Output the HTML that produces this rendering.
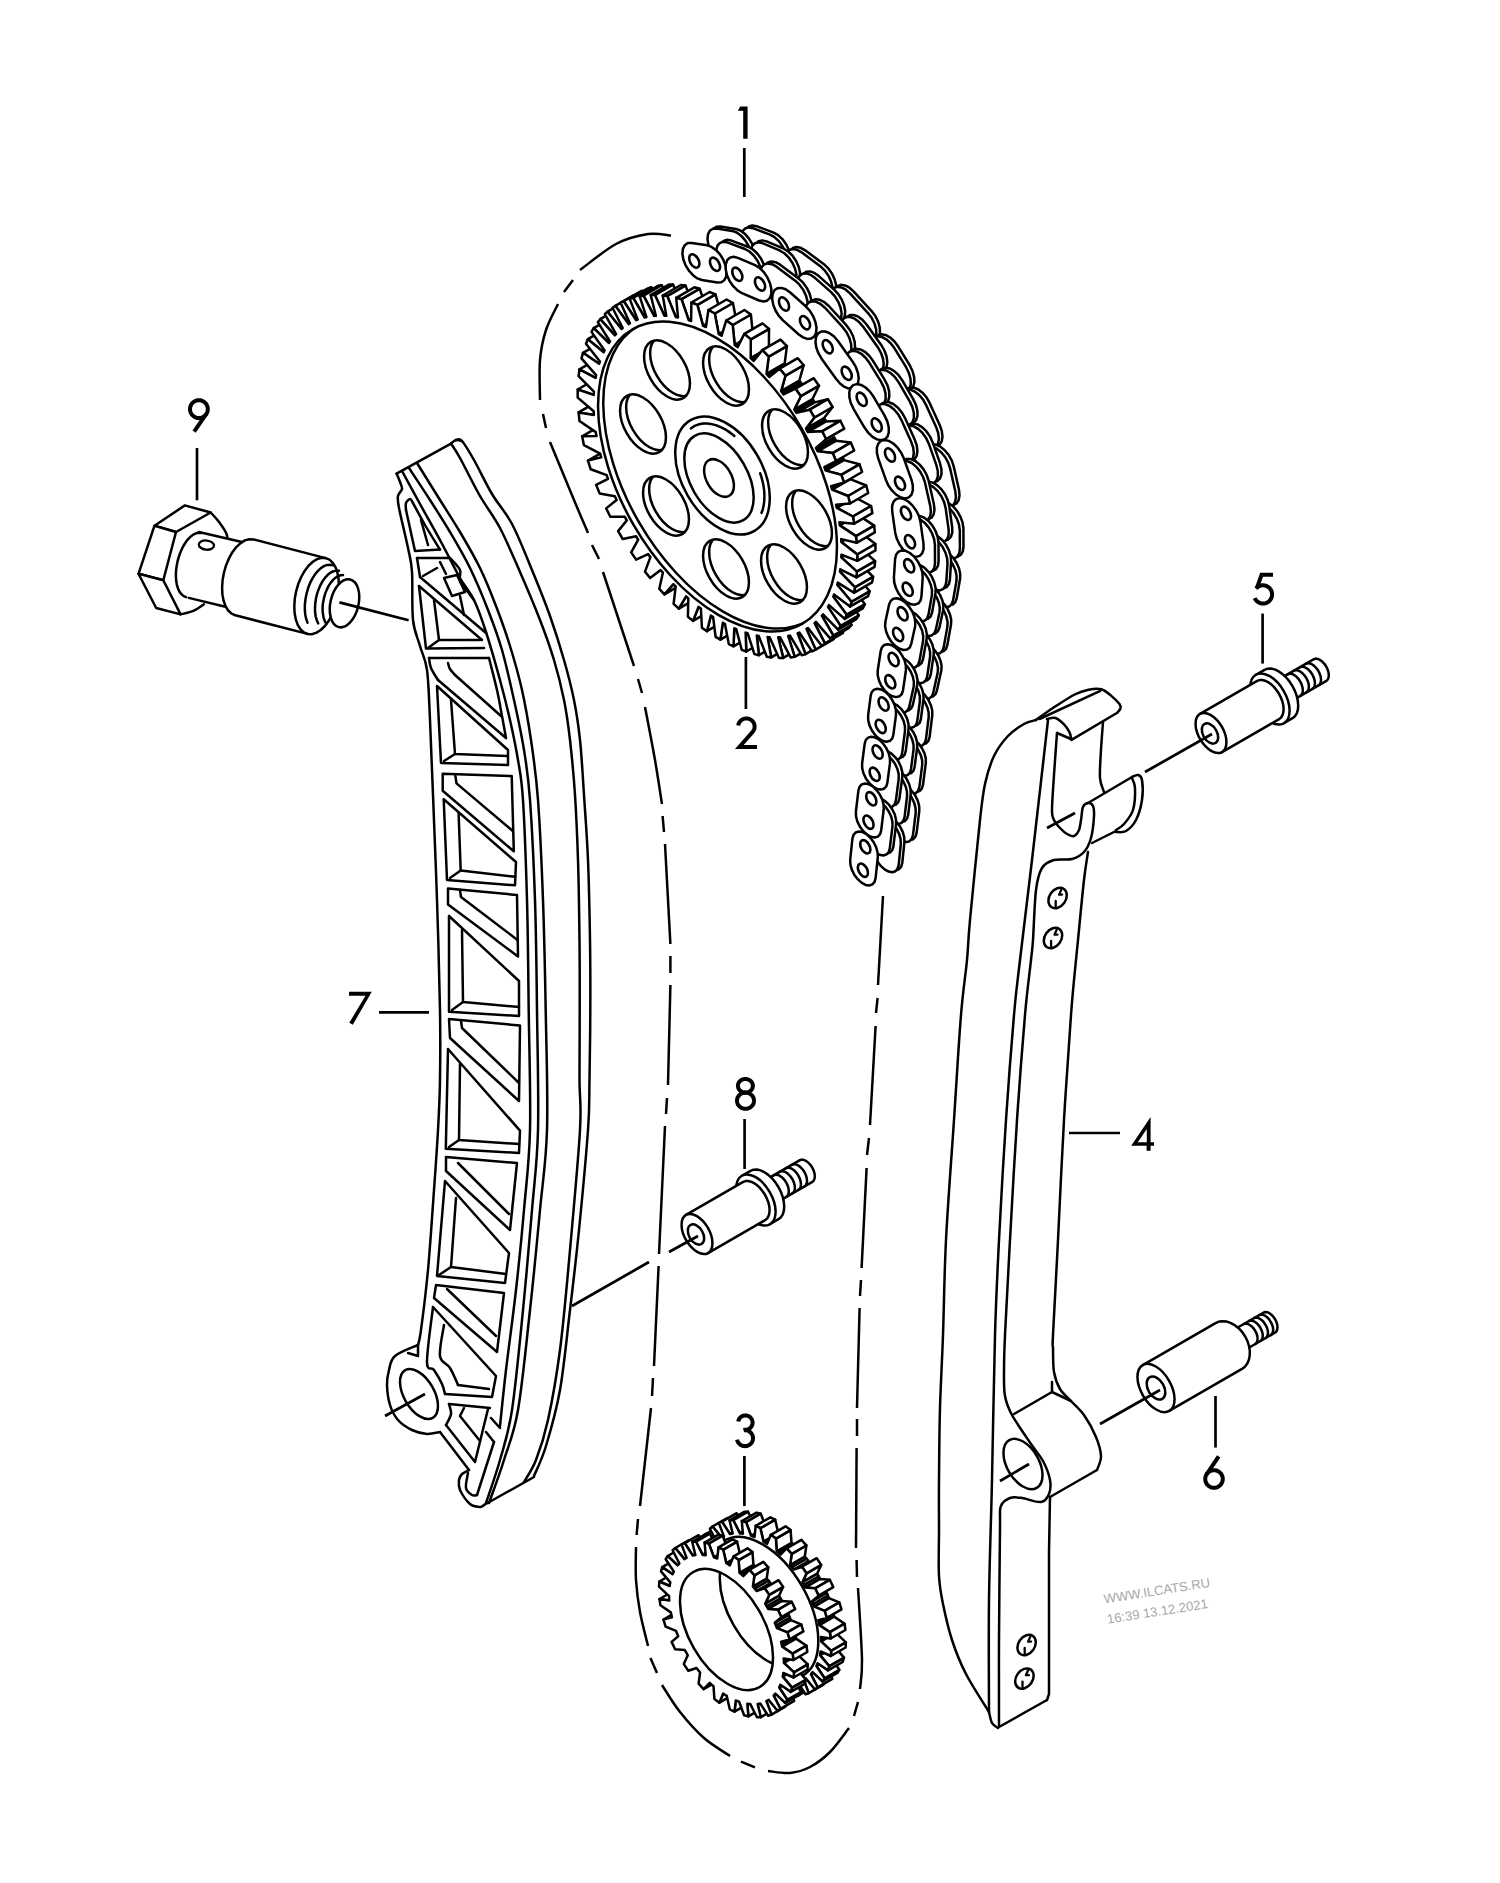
<!DOCTYPE html>
<html><head><meta charset="utf-8"><title>Timing chain</title>
<style>
html,body{margin:0;padding:0;background:#fff;}
body{width:1500px;height:1883px;overflow:hidden;font-family:"Liberation Sans",sans-serif;}
svg{display:block}
</style></head><body>
<svg width="1500" height="1883" viewBox="0 0 1500 1883" stroke="#000" fill="none" stroke-linecap="round" stroke-linejoin="round">
<rect x="0" y="0" width="1500" height="1883" fill="#fff" stroke="none"/>
<path d="M671 235.6 C667.2 235.3 657.2 232.6 648 234 C638.8 235.4 627.3 238 616 244 C604.7 250 586 265.7 580 270" fill="none" stroke-width="2.5" stroke-linecap="butt"/>
<path d="M573 280 L564 292" fill="none" stroke-width="2.5" stroke-linecap="butt"/>
<path d="M558 304 C556 308.3 549 320.7 546 330 C543 339.3 541 348.3 540 360 C539 371.7 540 393.3 540 400" fill="none" stroke-width="2.5" stroke-linecap="butt"/>
<path d="M543 414 L546 428" fill="none" stroke-width="2.5" stroke-linecap="butt"/>
<path d="M550 442 C554 451.7 567.7 484.8 574 500 C580.3 515.2 585.7 527.5 588 533" fill="none" stroke-width="2.5" stroke-linecap="butt"/>
<path d="M592 545 L599 559" fill="none" stroke-width="2.5" stroke-linecap="butt"/>
<path d="M603 572 L634 666" fill="none" stroke-width="2.5" stroke-linecap="butt"/>
<path d="M638 679 L642 693" fill="none" stroke-width="2.5" stroke-linecap="butt"/>
<path d="M645 707 C646.7 715.8 652.2 743.8 655 760 C657.8 776.2 660.8 796.7 662 804" fill="none" stroke-width="2.5" stroke-linecap="butt"/>
<path d="M662.6 816 L664 832" fill="none" stroke-width="2.5" stroke-linecap="butt"/>
<path d="M665 844 L670.4 944" fill="none" stroke-width="2.5" stroke-linecap="butt"/>
<path d="M670.4 956 L670.4 973" fill="none" stroke-width="2.5" stroke-linecap="butt"/>
<path d="M670.4 985 L668 1085" fill="none" stroke-width="2.5" stroke-linecap="butt"/>
<path d="M667 1098 L666 1114" fill="none" stroke-width="2.5" stroke-linecap="butt"/>
<path d="M665 1126 L659 1254" fill="none" stroke-width="2.5" stroke-linecap="butt"/>
<path d="M658.6 1266 L654 1366" fill="none" stroke-width="2.5" stroke-linecap="butt"/>
<path d="M653 1378 L652 1396" fill="none" stroke-width="2.5" stroke-linecap="butt"/>
<path d="M651 1408 L640 1506" fill="none" stroke-width="2.5" stroke-linecap="butt"/>
<path d="M638 1519 L636.6 1535" fill="none" stroke-width="2.5" stroke-linecap="butt"/>
<path d="M636 1547 C636 1552.5 635.3 1569.2 636 1580 C636.7 1590.8 638 1601 640 1612 C642 1623 646.7 1640.3 648 1646" fill="none" stroke-width="2.5" stroke-linecap="butt"/>
<path d="M650.4 1658 L657 1673" fill="none" stroke-width="2.5" stroke-linecap="butt"/>
<path d="M662 1685 C665 1689.5 673 1703.2 680 1712 C687 1720.8 695.7 1730.7 704 1738 C712.3 1745.3 725.7 1753 730 1756" fill="none" stroke-width="2.5" stroke-linecap="butt"/>
<path d="M741 1761.6 L755 1767.4" fill="none" stroke-width="2.5" stroke-linecap="butt"/>
<path d="M768 1771 C771.7 1771.3 783 1773.7 790 1773 C797 1772.3 803.3 1770.5 810 1767 C816.7 1763.5 823.5 1758.5 830 1752 C836.5 1745.5 845.8 1732 849 1728" fill="none" stroke-width="2.5" stroke-linecap="butt"/>
<path d="M854 1716 L858 1702" fill="none" stroke-width="2.5" stroke-linecap="butt"/>
<path d="M860 1689 C860.3 1684.2 862.3 1676.8 862 1660 C861.7 1643.2 858.7 1600 858 1588" fill="none" stroke-width="2.5" stroke-linecap="butt"/>
<path d="M857 1577 L856.6 1560" fill="none" stroke-width="2.5" stroke-linecap="butt"/>
<path d="M856 1548 L856.6 1448" fill="none" stroke-width="2.5" stroke-linecap="butt"/>
<path d="M857 1436 L857 1419" fill="none" stroke-width="2.5" stroke-linecap="butt"/>
<path d="M857 1408 L859.6 1308" fill="none" stroke-width="2.5" stroke-linecap="butt"/>
<path d="M860 1296 L861 1280" fill="none" stroke-width="2.5" stroke-linecap="butt"/>
<path d="M861.6 1268 L866.6 1168" fill="none" stroke-width="2.5" stroke-linecap="butt"/>
<path d="M867 1155 L869 1138" fill="none" stroke-width="2.5" stroke-linecap="butt"/>
<path d="M870 1125 L875.6 1026" fill="none" stroke-width="2.5" stroke-linecap="butt"/>
<path d="M876 1013 L877.6 998" fill="none" stroke-width="2.5" stroke-linecap="butt"/>
<path d="M878 985 L883 896" fill="none" stroke-width="2.5" stroke-linecap="butt"/>
<path d="M778.9 268.4 L783.1 269.2 L786.7 268.1 L789.3 265.3 L790.5 261.1 L790.4 255.8 L788.9 250 L786.1 244.2 L782.4 239.1 L778.1 235.1 L773.6 232.6 L756.5 226.2 L752.3 225.4 L748.7 226.5 L746.2 229.2 L744.9 233.5 L745 238.8 L746.5 244.6 L749.3 250.3 L753 255.4 L757.3 259.5 L761.8 262 Z" fill="#fff" stroke-width="2.5" />
<path d="M775.3 270.4 L779.5 271.2 L783.1 270.1 L785.7 267.3 L786.9 263.1 L786.8 257.8 L785.3 252 L782.5 246.2 L778.8 241.1 L774.5 237.1 L770 234.6 L752.9 228.2 L748.7 227.4 L745.1 228.5 L742.6 231.2 L741.3 235.5 L741.4 240.8 L742.9 246.6 L745.7 252.3 L749.4 257.4 L753.7 261.5 L758.2 264 Z" fill="#fff" stroke-width="2.5" />
<path d="M820.1 294.9 L824.6 297.5 L828.8 298.3 L832.4 297.2 L835 294.5 L836.2 290.2 L836.1 285 L834.6 279.2 L831.9 273.4 L828.2 268.3 L823.9 264.2 L805.2 250.3 L800.7 247.8 L796.4 247 L792.8 248 L790.3 250.8 L789 255 L789.1 260.3 L790.6 266.1 L793.3 271.8 L797.1 277 L801.4 281 Z" fill="#fff" stroke-width="2.5" />
<path d="M816.5 296.9 L821 299.5 L825.2 300.3 L828.8 299.2 L831.4 296.5 L832.6 292.2 L832.5 287 L831 281.2 L828.3 275.4 L824.6 270.3 L820.3 266.2 L801.6 252.3 L797.1 249.8 L792.8 249 L789.2 250 L786.7 252.8 L785.4 257 L785.5 262.3 L787 268.1 L789.7 273.8 L793.5 279 L797.8 283 Z" fill="#fff" stroke-width="2.5" />
<path d="M859.9 334.5 L864.3 338.4 L868.8 340.7 L873 341.3 L876.5 340 L878.9 337.1 L880 332.7 L879.7 327.3 L878.1 321.5 L875.2 315.8 L871.4 310.8 L853.8 291.6 L849.5 287.7 L845 285.4 L840.8 284.8 L837.3 286.1 L834.9 289 L833.8 293.4 L834.1 298.8 L835.7 304.6 L838.6 310.3 L842.4 315.3 Z" fill="#fff" stroke-width="2.5" />
<path d="M856.3 336.5 L860.7 340.4 L865.2 342.7 L869.4 343.3 L872.9 342 L875.3 339.1 L876.4 334.7 L876.1 329.3 L874.5 323.5 L871.6 317.8 L867.8 312.8 L850.2 293.6 L845.9 289.7 L841.4 287.4 L837.2 286.8 L833.7 288.1 L831.3 291 L830.2 295.4 L830.5 300.8 L832.1 306.6 L835 312.3 L838.8 317.3 Z" fill="#fff" stroke-width="2.5" />
<path d="M890.4 378.6 L894.2 383.7 L898.6 387.6 L903.1 390 L907.3 390.6 L910.8 389.4 L913.2 386.5 L914.4 382.1 L914.1 376.8 L912.5 371 L909.7 365.2 L898.1 346.3 L894.3 341.2 L889.9 337.3 L885.4 334.9 L881.2 334.3 L877.7 335.5 L875.3 338.4 L874.1 342.8 L874.3 348.1 L876 353.9 L878.8 359.6 Z" fill="#fff" stroke-width="2.5" />
<path d="M886.8 380.6 L890.6 385.7 L895 389.6 L899.5 392 L903.7 392.6 L907.2 391.4 L909.6 388.5 L910.8 384.1 L910.5 378.8 L908.9 373 L906.1 367.2 L894.5 348.3 L890.7 343.2 L886.3 339.3 L881.8 336.9 L877.6 336.3 L874.1 337.5 L871.7 340.4 L870.5 344.8 L870.7 350.1 L872.4 355.9 L875.2 361.6 Z" fill="#fff" stroke-width="2.5" />
<path d="M916.4 430.7 L919.5 436.2 L923.5 441 L928 444.5 L932.4 446.4 L936.4 446.4 L939.7 444.7 L941.7 441.3 L942.5 436.6 L941.8 431.1 L939.8 425.2 L929.9 403.4 L926.8 397.8 L922.8 393 L918.3 389.5 L913.9 387.7 L909.8 387.6 L906.6 389.4 L904.5 392.7 L903.8 397.4 L904.5 403 L906.5 408.8 Z" fill="#fff" stroke-width="2.5" />
<path d="M912.8 432.7 L915.9 438.2 L919.9 443 L924.4 446.5 L928.8 448.4 L932.8 448.4 L936.1 446.7 L938.1 443.3 L938.9 438.6 L938.2 433.1 L936.2 427.2 L926.3 405.4 L923.2 399.8 L919.2 395 L914.7 391.5 L910.3 389.7 L906.2 389.6 L903 391.4 L900.9 394.7 L900.2 399.4 L900.9 405 L902.9 410.8 Z" fill="#fff" stroke-width="2.5" />
<path d="M931.3 482.9 L933.3 488.8 L936.4 494.4 L940.3 499.2 L944.8 502.8 L949.2 504.8 L953.3 504.9 L956.6 503.3 L958.7 500 L959.5 495.3 L959 489.8 L953.7 466.4 L951.8 460.6 L948.7 455 L944.7 450.2 L940.3 446.6 L935.8 444.6 L931.8 444.5 L928.5 446.1 L926.4 449.4 L925.5 454 L926.1 459.5 Z" fill="#fff" stroke-width="2.5" />
<path d="M927.7 484.9 L929.7 490.8 L932.8 496.4 L936.7 501.2 L941.2 504.8 L945.6 506.8 L949.7 506.9 L953 505.3 L955.1 502 L955.9 497.3 L955.4 491.8 L950.1 468.4 L948.2 462.6 L945.1 457 L941.1 452.2 L936.7 448.6 L932.2 446.6 L928.2 446.5 L924.9 448.1 L922.8 451.4 L921.9 456 L922.5 461.5 Z" fill="#fff" stroke-width="2.5" />
<path d="M934.7 529.8 L935.5 535.4 L937.6 541.2 L940.8 546.7 L944.8 551.4 L949.3 554.8 L953.7 556.6 L957.7 556.6 L960.9 554.7 L962.9 551.2 L963.5 546.5 L963.4 528.2 L962.6 522.7 L960.5 516.8 L957.3 511.3 L953.3 506.6 L948.8 503.2 L944.4 501.4 L940.4 501.5 L937.2 503.3 L935.2 506.8 L934.6 511.5 Z" fill="#fff" stroke-width="2.5" />
<path d="M931.1 531.8 L931.9 537.4 L934 543.2 L937.2 548.7 L941.2 553.4 L945.7 556.8 L950.1 558.6 L954.1 558.6 L957.3 556.7 L959.3 553.2 L959.9 548.5 L959.8 530.2 L959 524.7 L956.9 518.8 L953.7 513.3 L949.7 508.6 L945.2 505.2 L940.8 503.4 L936.8 503.5 L933.6 505.3 L931.6 508.8 L931 513.5 Z" fill="#fff" stroke-width="2.5" />
<path d="M929.5 576.4 L929.4 581.4 L930.6 586.9 L933.1 592.5 L936.5 597.5 L940.6 601.6 L945 604.3 L949.1 605.3 L952.7 604.6 L955.3 602.1 L956.7 598.3 L960.1 578.7 L960.2 573.8 L959 568.3 L956.5 562.7 L953.1 557.6 L949 553.6 L944.6 550.9 L940.5 549.9 L936.9 550.6 L934.3 553 L932.9 556.9 Z" fill="#fff" stroke-width="2.5" />
<path d="M925.9 578.4 L925.8 583.4 L927 588.9 L929.5 594.5 L932.9 599.5 L937 603.6 L941.4 606.3 L945.5 607.3 L949.1 606.6 L951.7 604.1 L953.1 600.3 L956.5 580.7 L956.6 575.8 L955.4 570.3 L952.9 564.7 L949.5 559.6 L945.4 555.6 L941 552.9 L936.9 551.9 L933.3 552.6 L930.7 555 L929.3 558.9 Z" fill="#fff" stroke-width="2.5" />
<path d="M921.2 624.2 L921.1 628.9 L922.3 634.2 L924.6 639.5 L927.9 644.4 L931.8 648.3 L936 650.9 L939.9 651.9 L943.4 651.3 L945.9 649 L947.3 645.3 L951 624.6 L951.2 619.9 L950 614.6 L947.7 609.2 L944.4 604.3 L940.5 600.4 L936.3 597.8 L932.3 596.8 L928.9 597.5 L926.3 599.8 L924.9 603.5 Z" fill="#fff" stroke-width="2.5" />
<path d="M917.6 626.2 L917.5 630.9 L918.7 636.2 L921 641.5 L924.3 646.4 L928.2 650.3 L932.4 652.9 L936.3 653.9 L939.8 653.3 L942.3 651 L943.7 647.3 L947.4 626.6 L947.6 621.9 L946.4 616.6 L944.1 611.2 L940.8 606.3 L936.9 602.4 L932.7 599.8 L928.7 598.8 L925.3 599.5 L922.7 601.8 L921.3 605.5 Z" fill="#fff" stroke-width="2.5" />
<path d="M911.9 669.7 L911.6 674.2 L912.6 679.3 L914.8 684.4 L917.8 689.2 L921.6 693.1 L925.5 695.8 L929.4 696.9 L932.8 696.5 L935.4 694.4 L936.8 691 L941.3 670.5 L941.6 666.1 L940.6 661 L938.5 655.8 L935.4 651.1 L931.7 647.2 L927.7 644.5 L923.8 643.4 L920.4 643.8 L917.9 645.9 L916.4 649.3 Z" fill="#fff" stroke-width="2.5" />
<path d="M908.3 671.7 L908 676.2 L909 681.3 L911.2 686.4 L914.2 691.2 L918 695.1 L921.9 697.8 L925.8 698.9 L929.2 698.5 L931.8 696.4 L933.2 693 L937.7 672.5 L938 668.1 L937 663 L934.9 657.8 L931.8 653.1 L928.1 649.2 L924.1 646.5 L920.2 645.4 L916.8 645.8 L914.3 647.9 L912.8 651.3 Z" fill="#fff" stroke-width="2.5" />
<path d="M904.2 718.3 L904.3 722.9 L905.6 728.1 L908.1 733.2 L911.4 737.8 L915.2 741.4 L919.2 743.6 L923 744.3 L926.1 743.4 L928.4 740.9 L929.6 737.2 L932.3 715 L932.2 710.3 L930.9 705.2 L928.5 700.1 L925.2 695.5 L921.4 691.9 L917.4 689.7 L913.6 688.9 L910.4 689.9 L908.1 692.3 L907 696.1 Z" fill="#fff" stroke-width="2.5" />
<path d="M900.6 720.3 L900.7 724.9 L902 730.1 L904.5 735.2 L907.8 739.8 L911.6 743.4 L915.6 745.6 L919.4 746.3 L922.5 745.4 L924.8 742.9 L926 739.2 L928.7 717 L928.6 712.3 L927.3 707.2 L924.9 702.1 L921.6 697.5 L917.8 693.9 L913.8 691.7 L910 690.9 L906.8 691.9 L904.5 694.3 L903.4 698.1 Z" fill="#fff" stroke-width="2.5" />
<path d="M897.6 765.8 L897.7 770.5 L899 775.6 L901.4 780.7 L904.7 785.3 L908.5 788.9 L912.5 791.2 L916.3 792 L919.5 791.1 L921.8 788.7 L923 784.9 L925.8 763.2 L925.8 758.6 L924.5 753.4 L922 748.3 L918.8 743.7 L914.9 740.1 L910.9 737.8 L907.2 737.1 L904 738 L901.7 740.4 L900.5 744.1 Z" fill="#fff" stroke-width="2.5" />
<path d="M894 767.8 L894.1 772.5 L895.4 777.6 L897.8 782.7 L901.1 787.3 L904.9 790.9 L908.9 793.2 L912.7 794 L915.9 793.1 L918.2 790.7 L919.4 786.9 L922.2 765.2 L922.2 760.6 L920.9 755.4 L918.4 750.3 L915.2 745.7 L911.3 742.1 L907.3 739.8 L903.6 739.1 L900.4 740 L898.1 742.4 L896.9 746.1 Z" fill="#fff" stroke-width="2.5" />
<path d="M891.3 814.1 L891.4 818.8 L892.7 823.9 L895.2 829.1 L898.5 833.6 L902.3 837.2 L906.3 839.4 L910.1 840.1 L913.2 839.2 L915.5 836.7 L916.6 832.9 L919.3 810.8 L919.2 806.1 L917.8 800.9 L915.4 795.8 L912.1 791.3 L908.3 787.7 L904.3 785.5 L900.5 784.8 L897.3 785.7 L895.1 788.2 L893.9 791.9 Z" fill="#fff" stroke-width="2.5" />
<path d="M887.7 816.1 L887.8 820.8 L889.1 825.9 L891.6 831.1 L894.9 835.6 L898.7 839.2 L902.7 841.4 L906.5 842.1 L909.6 841.2 L911.9 838.7 L913 834.9 L915.7 812.8 L915.6 808.1 L914.2 802.9 L911.8 797.8 L908.5 793.3 L904.7 789.7 L900.7 787.5 L896.9 786.8 L893.7 787.7 L891.5 790.2 L890.3 793.9 Z" fill="#fff" stroke-width="2.5" />
<path d="M745.9 266 L749.9 265.8 L752.9 263.8 L754.8 260.1 L755.3 255.3 L754.4 249.6 L752.2 243.8 L748.8 238.3 L744.7 233.7 L740.3 230.5 L735.8 228.9 L720.4 226.4 L716.5 226.7 L713.4 228.7 L711.6 232.4 L711.1 237.2 L712 242.9 L714.2 248.7 L717.5 254.2 L721.6 258.8 L726.1 262 L730.5 263.6 Z" fill="#fff" stroke-width="2.5" />
<path d="M742.3 268 L746.3 267.8 L749.3 265.8 L751.2 262.1 L751.7 257.3 L750.8 251.6 L748.6 245.8 L745.2 240.3 L741.1 235.7 L736.7 232.5 L732.2 230.9 L716.8 228.4 L712.9 228.7 L709.8 230.7 L708 234.4 L707.5 239.2 L708.4 244.9 L710.6 250.7 L713.9 256.2 L718 260.8 L722.5 264 L726.9 265.6 Z" fill="#fff" stroke-width="2.5" />
<path d="M787.8 284.1 L792.1 285.1 L795.8 284.3 L798.5 281.7 L799.9 277.7 L800 272.5 L798.7 266.7 L796.1 261 L792.5 255.7 L788.2 251.5 L783.7 248.7 L766.6 241.4 L762.3 240.4 L758.6 241.2 L755.9 243.8 L754.4 247.8 L754.3 253 L755.7 258.7 L758.3 264.5 L761.9 269.8 L766.1 274 L770.6 276.8 Z" fill="#fff" stroke-width="2.5" />
<path d="M784.2 286.1 L788.5 287.1 L792.2 286.3 L794.9 283.7 L796.3 279.7 L796.4 274.5 L795.1 268.7 L792.5 263 L788.9 257.7 L784.6 253.5 L780.1 250.7 L763 243.4 L758.7 242.4 L755 243.2 L752.3 245.8 L750.8 249.8 L750.7 255 L752.1 260.7 L754.7 266.5 L758.3 271.8 L762.5 276 L767 278.8 Z" fill="#fff" stroke-width="2.5" />
<path d="M827.2 317.8 L831.7 321 L836.1 322.5 L840 322.1 L842.9 320 L844.7 316.3 L845.2 311.4 L844.2 305.7 L841.9 299.9 L838.5 294.4 L834.4 289.9 L818.8 276.1 L814.4 272.9 L810 271.4 L806.1 271.8 L803.1 273.9 L801.3 277.6 L800.9 282.5 L801.8 288.2 L804.1 294 L807.5 299.5 L811.6 304 Z" fill="#fff" stroke-width="2.5" />
<path d="M823.6 319.8 L828.1 323 L832.5 324.5 L836.4 324.1 L839.3 322 L841.1 318.3 L841.6 313.4 L840.6 307.7 L838.3 301.9 L834.9 296.4 L830.8 291.9 L815.2 278.1 L810.8 274.9 L806.4 273.4 L802.5 273.8 L799.5 275.9 L797.7 279.6 L797.3 284.5 L798.2 290.2 L800.5 296 L803.9 301.5 L808 306 Z" fill="#fff" stroke-width="2.5" />
<path d="M864.7 362.4 L868.7 367.1 L873.2 370.4 L877.6 372.2 L881.6 372.1 L884.7 370.2 L886.7 366.7 L887.3 361.9 L886.5 356.3 L884.4 350.5 L881.2 344.9 L866.8 324.8 L862.7 320.1 L858.3 316.7 L853.8 315 L849.8 315.1 L846.7 317 L844.7 320.5 L844.1 325.3 L844.9 330.9 L847 336.7 L850.3 342.3 Z" fill="#fff" stroke-width="2.5" />
<path d="M861.1 364.4 L865.1 369.1 L869.6 372.4 L874 374.2 L878 374.1 L881.1 372.2 L883.1 368.7 L883.7 363.9 L882.9 358.3 L880.8 352.5 L877.6 346.9 L863.2 326.8 L859.1 322.1 L854.7 318.7 L850.2 317 L846.2 317.1 L843.1 319 L841.1 322.5 L840.5 327.3 L841.3 332.9 L843.4 338.7 L846.7 344.3 Z" fill="#fff" stroke-width="2.5" />
<path d="M893.2 411.1 L896.8 416.3 L901.1 420.4 L905.7 423 L909.9 423.8 L913.5 422.8 L916.1 420.1 L917.5 415.9 L917.4 410.7 L915.9 404.9 L913.2 399.1 L902.3 380.4 L898.6 375.2 L894.3 371.1 L889.8 368.5 L885.5 367.7 L881.9 368.6 L879.3 371.4 L878 375.5 L878 380.8 L879.5 386.6 L882.2 392.3 Z" fill="#fff" stroke-width="2.5" />
<path d="M889.6 413.1 L893.2 418.3 L897.5 422.4 L902.1 425 L906.3 425.8 L909.9 424.8 L912.5 422.1 L913.9 417.9 L913.8 412.7 L912.3 406.9 L909.6 401.1 L898.7 382.4 L895 377.2 L890.7 373.1 L886.2 370.5 L881.9 369.7 L878.3 370.6 L875.7 373.4 L874.4 377.5 L874.4 382.8 L875.9 388.6 L878.6 394.3 Z" fill="#fff" stroke-width="2.5" />
<path d="M914.4 463.3 L917.1 469.1 L920.7 474.3 L925 478.4 L929.5 481 L933.8 481.9 L937.5 481 L940.1 478.3 L941.5 474.2 L941.4 469 L940 463.2 L932.6 442.2 L929.9 436.4 L926.3 431.2 L922 427.1 L917.5 424.4 L913.2 423.5 L909.6 424.5 L906.9 427.1 L905.6 431.3 L905.6 436.5 L907 442.3 Z" fill="#fff" stroke-width="2.5" />
<path d="M910.8 465.3 L913.5 471.1 L917.1 476.3 L921.4 480.4 L925.9 483 L930.2 483.9 L933.9 483 L936.5 480.3 L937.9 476.2 L937.8 471 L936.4 465.2 L929 444.2 L926.3 438.4 L922.7 433.2 L918.4 429.1 L913.9 426.4 L909.6 425.5 L906 426.5 L903.3 429.1 L902 433.3 L902 438.5 L903.4 444.3 Z" fill="#fff" stroke-width="2.5" />
<path d="M923.8 516.3 L925.3 522.1 L928 527.9 L931.7 533 L936 537.1 L940.5 539.7 L944.8 540.5 L948.4 539.5 L951 536.7 L952.3 532.5 L952.2 527.3 L949.2 505.9 L947.7 500.1 L945 494.3 L941.3 489.1 L937 485.1 L932.5 482.5 L928.2 481.7 L924.6 482.7 L922.1 485.4 L920.7 489.6 L920.8 494.9 Z" fill="#fff" stroke-width="2.5" />
<path d="M920.2 518.3 L921.7 524.1 L924.4 529.9 L928.1 535 L932.4 539.1 L936.9 541.7 L941.2 542.5 L944.8 541.5 L947.4 538.7 L948.7 534.5 L948.6 529.3 L945.6 507.9 L944.1 502.1 L941.4 496.3 L937.7 491.1 L933.4 487.1 L928.9 484.5 L924.6 483.7 L921 484.7 L918.5 487.4 L917.1 491.6 L917.2 496.9 Z" fill="#fff" stroke-width="2.5" />
<path d="M922.3 561.2 L922.7 566.4 L924.3 572 L927.2 577.5 L930.9 582.3 L935.1 585.9 L939.4 588 L943.4 588.4 L946.7 587.1 L948.9 584.1 L949.9 579.9 L951.1 561.3 L950.7 556.1 L949 550.5 L946.2 545.1 L942.5 540.3 L938.3 536.7 L933.9 534.6 L929.9 534.1 L926.7 535.5 L924.4 538.4 L923.5 542.7 Z" fill="#fff" stroke-width="2.5" />
<path d="M918.7 563.2 L919.1 568.4 L920.7 574 L923.6 579.5 L927.3 584.3 L931.5 587.9 L935.8 590 L939.8 590.4 L943.1 589.1 L945.3 586.1 L946.3 581.9 L947.5 563.3 L947.1 558.1 L945.4 552.5 L942.6 547.1 L938.9 542.3 L934.7 538.7 L930.3 536.6 L926.3 536.1 L923.1 537.5 L920.8 540.4 L919.9 544.7 Z" fill="#fff" stroke-width="2.5" />
<path d="M913.5 605.7 L913.2 610.4 L914.2 615.6 L916.5 621 L919.7 625.9 L923.5 630 L927.7 632.7 L931.7 633.9 L935.2 633.4 L937.9 631.3 L939.4 627.7 L943.1 610.4 L943.4 605.8 L942.4 600.5 L940.1 595.1 L936.9 590.2 L933.1 586.1 L928.9 583.4 L924.9 582.2 L921.4 582.7 L918.7 584.8 L917.2 588.4 Z" fill="#fff" stroke-width="2.5" />
<path d="M909.9 607.7 L909.6 612.4 L910.6 617.6 L912.9 623 L916.1 627.9 L919.9 632 L924.1 634.7 L928.1 635.9 L931.6 635.4 L934.3 633.3 L935.8 629.7 L939.5 612.4 L939.8 607.8 L938.8 602.5 L936.5 597.1 L933.3 592.2 L929.5 588.1 L925.3 585.4 L921.3 584.2 L917.8 584.7 L915.1 586.8 L913.6 590.4 Z" fill="#fff" stroke-width="2.5" />
<path d="M905.5 654.8 L905.5 659.5 L906.8 664.6 L909.1 669.7 L912.4 674.3 L916.2 678 L920.2 680.4 L924 681.2 L927.2 680.4 L929.6 678 L930.8 674.4 L933.7 654.6 L933.7 650 L932.5 644.8 L930.1 639.7 L926.9 635.1 L923.1 631.4 L919.1 629 L915.3 628.2 L912 629 L909.7 631.4 L908.5 635 Z" fill="#fff" stroke-width="2.5" />
<path d="M901.9 656.8 L901.9 661.5 L903.2 666.6 L905.5 671.7 L908.8 676.3 L912.6 680 L916.6 682.4 L920.4 683.2 L923.6 682.4 L926 680 L927.2 676.4 L930.1 656.6 L930.1 652 L928.9 646.8 L926.5 641.7 L923.3 637.1 L919.5 633.4 L915.5 631 L911.7 630.2 L908.4 631 L906.1 633.4 L904.9 637 Z" fill="#fff" stroke-width="2.5" />
<path d="M895.6 699.8 L895.7 704.5 L897 709.6 L899.4 714.7 L902.7 719.3 L906.5 722.9 L910.5 725.2 L914.3 725.9 L917.5 725 L919.8 722.6 L920.9 718.9 L923.5 699 L923.4 694.4 L922.1 689.2 L919.7 684.1 L916.4 679.5 L912.6 675.9 L908.6 673.6 L904.8 672.9 L901.6 673.8 L899.3 676.2 L898.2 680 Z" fill="#fff" stroke-width="2.5" />
<path d="M892 701.8 L892.1 706.5 L893.4 711.6 L895.8 716.7 L899.1 721.3 L902.9 724.9 L906.9 727.2 L910.7 727.9 L913.9 727 L916.2 724.6 L917.3 720.9 L919.9 701 L919.8 696.4 L918.5 691.2 L916.1 686.1 L912.8 681.5 L909 677.9 L905 675.6 L901.2 674.9 L898 675.8 L895.7 678.2 L894.6 682 Z" fill="#fff" stroke-width="2.5" />
<path d="M889.3 747.9 L889.4 752.5 L890.7 757.7 L893.1 762.8 L896.4 767.4 L900.2 771 L904.2 773.3 L908 774 L911.2 773.1 L913.5 770.7 L914.6 767 L917.2 747.2 L917.1 742.5 L915.8 737.4 L913.4 732.3 L910.1 727.7 L906.3 724.1 L902.3 721.8 L898.5 721.1 L895.3 722 L893 724.4 L891.9 728.1 Z" fill="#fff" stroke-width="2.5" />
<path d="M885.7 749.9 L885.8 754.5 L887.1 759.7 L889.5 764.8 L892.8 769.4 L896.6 773 L900.6 775.3 L904.4 776 L907.6 775.1 L909.9 772.7 L911 769 L913.6 749.2 L913.5 744.5 L912.2 739.4 L909.8 734.3 L906.5 729.7 L902.7 726.1 L898.7 723.8 L894.9 723.1 L891.7 724 L889.4 726.4 L888.3 730.1 Z" fill="#fff" stroke-width="2.5" />
<path d="M882.8 796.1 L882.9 800.8 L884.3 805.9 L886.7 811 L890 815.6 L893.8 819.1 L897.8 821.4 L901.6 822.1 L904.8 821.1 L907 818.6 L908.2 814.9 L910.7 794 L910.5 789.3 L909.2 784.2 L906.7 779.1 L903.4 774.5 L899.6 771 L895.6 768.7 L891.8 768 L888.7 769 L886.4 771.5 L885.3 775.2 Z" fill="#fff" stroke-width="2.5" />
<path d="M879.2 798.1 L879.3 802.8 L880.7 807.9 L883.1 813 L886.4 817.6 L890.2 821.1 L894.2 823.4 L898 824.1 L901.2 823.1 L903.4 820.6 L904.6 816.9 L907.1 796 L906.9 791.3 L905.6 786.2 L903.1 781.1 L899.8 776.5 L896 773 L892 770.7 L888.2 770 L885.1 771 L882.8 773.5 L881.7 777.2 Z" fill="#fff" stroke-width="2.5" />
<path d="M876.9 844.5 L877.1 849.2 L878.5 854.3 L881 859.4 L884.3 863.9 L888.2 867.4 L892.2 869.6 L895.9 870.2 L899 869.2 L901.2 866.6 L902.3 862.8 L904.4 842 L904.2 837.2 L902.8 832.1 L900.3 827 L897 822.5 L893.1 819 L889.1 816.8 L885.4 816.2 L882.3 817.3 L880.1 819.8 L879 823.6 Z" fill="#fff" stroke-width="2.5" />
<path d="M873.3 846.5 L873.5 851.2 L874.9 856.3 L877.4 861.4 L880.7 865.9 L884.6 869.4 L888.6 871.6 L892.3 872.2 L895.4 871.2 L897.6 868.6 L898.7 864.8 L900.8 844 L900.6 839.2 L899.2 834.1 L896.7 829 L893.4 824.5 L889.5 821 L885.5 818.8 L881.8 818.2 L878.7 819.3 L876.5 821.8 L875.4 825.6 Z" fill="#fff" stroke-width="2.5" />
<path d="M753.8 282.8 L758.1 283.6 L761.7 282.5 L764.2 279.7 L765.5 275.5 L765.3 270.2 L763.8 264.4 L761.1 258.7 L757.3 253.5 L753 249.5 L748.5 247 L731.5 240.6 L727.2 239.8 L723.6 240.9 L721.1 243.7 L719.8 247.9 L720 253.2 L721.5 259 L724.2 264.8 L727.9 269.9 L732.3 273.9 L736.8 276.4 Z" fill="#fff" stroke-width="2.5" />
<path d="M750.2 284.8 L754.5 285.6 L758.1 284.5 L760.6 281.7 L761.9 277.5 L761.7 272.2 L760.2 266.4 L757.5 260.7 L753.7 255.5 L749.4 251.5 L744.9 249 L727.9 242.6 L723.6 241.8 L720 242.9 L717.5 245.7 L716.2 249.9 L716.4 255.2 L717.9 261 L720.6 266.8 L724.3 271.9 L728.7 275.9 L733.2 278.4 Z" fill="#fff" stroke-width="2.5" />
<path d="M795 309.4 L799.5 311.9 L803.8 312.7 L807.3 311.7 L809.9 308.9 L811.2 304.7 L811.1 299.4 L809.6 293.6 L806.8 287.9 L803.1 282.7 L798.8 278.7 L780.1 264.7 L775.6 262.2 L771.4 261.4 L767.8 262.5 L765.2 265.2 L763.9 269.4 L764.1 274.7 L765.6 280.5 L768.3 286.3 L772 291.4 L776.3 295.5 Z" fill="#fff" stroke-width="2.5" />
<path d="M791.4 311.4 L795.9 313.9 L800.2 314.7 L803.7 313.7 L806.3 310.9 L807.6 306.7 L807.5 301.4 L806 295.6 L803.2 289.9 L799.5 284.7 L795.2 280.7 L776.5 266.7 L772 264.2 L767.8 263.4 L764.2 264.5 L761.6 267.2 L760.3 271.4 L760.5 276.7 L762 282.5 L764.7 288.3 L768.4 293.4 L772.7 297.5 Z" fill="#fff" stroke-width="2.5" />
<path d="M834.9 348.9 L839.2 352.8 L843.7 355.2 L847.9 355.7 L851.4 354.5 L853.8 351.5 L855 347.1 L854.7 341.8 L853 336 L850.1 330.3 L846.3 325.2 L828.8 306 L824.4 302.2 L819.9 299.8 L815.7 299.2 L812.3 300.5 L809.8 303.5 L808.7 307.8 L809 313.2 L810.7 319 L813.5 324.7 L817.3 329.8 Z" fill="#fff" stroke-width="2.5" />
<path d="M831.3 350.9 L835.6 354.8 L840.1 357.2 L844.3 357.7 L847.8 356.5 L850.2 353.5 L851.4 349.1 L851.1 343.8 L849.4 338 L846.5 332.3 L842.7 327.2 L825.2 308 L820.8 304.2 L816.3 301.8 L812.1 301.2 L808.7 302.5 L806.2 305.5 L805.1 309.8 L805.4 315.2 L807.1 321 L809.9 326.7 L813.7 331.8 Z" fill="#fff" stroke-width="2.5" />
<path d="M865.4 393 L869.1 398.1 L873.5 402 L878 404.4 L882.2 405 L885.7 403.8 L888.2 400.9 L889.3 396.6 L889.1 391.2 L887.5 385.4 L884.6 379.7 L873 360.8 L869.2 355.7 L864.9 351.8 L860.4 349.4 L856.2 348.8 L852.7 350 L850.2 352.9 L849 357.2 L849.3 362.6 L850.9 368.4 L853.7 374.1 Z" fill="#fff" stroke-width="2.5" />
<path d="M861.8 395 L865.5 400.1 L869.9 404 L874.4 406.4 L878.6 407 L882.1 405.8 L884.6 402.9 L885.7 398.6 L885.5 393.2 L883.9 387.4 L881 381.7 L869.4 362.8 L865.6 357.7 L861.3 353.8 L856.8 351.4 L852.6 350.8 L849.1 352 L846.6 354.9 L845.4 359.2 L845.7 364.6 L847.3 370.4 L850.1 376.1 Z" fill="#fff" stroke-width="2.5" />
<path d="M891.3 445.1 L894.5 450.7 L898.5 455.4 L902.9 458.9 L907.4 460.8 L911.4 460.9 L914.6 459.1 L916.7 455.7 L917.4 451 L916.8 445.5 L914.7 439.6 L904.9 417.8 L901.7 412.2 L897.7 407.5 L893.3 404 L888.8 402.1 L884.8 402.1 L881.6 403.8 L879.5 407.2 L878.7 411.9 L879.4 417.4 L881.4 423.3 Z" fill="#fff" stroke-width="2.5" />
<path d="M887.7 447.1 L890.9 452.7 L894.9 457.4 L899.3 460.9 L903.8 462.8 L907.8 462.9 L911 461.1 L913.1 457.7 L913.8 453 L913.2 447.5 L911.1 441.6 L901.3 419.8 L898.1 414.2 L894.1 409.5 L889.7 406 L885.2 404.1 L881.2 404.1 L878 405.8 L875.9 409.2 L875.1 413.9 L875.8 419.4 L877.8 425.3 Z" fill="#fff" stroke-width="2.5" />
<path d="M906.3 497.4 L908.2 503.2 L911.3 508.8 L915.3 513.7 L919.7 517.2 L924.2 519.2 L928.3 519.4 L931.5 517.7 L933.7 514.4 L934.5 509.8 L933.9 504.3 L928.7 480.9 L926.7 475 L923.6 469.4 L919.7 464.6 L915.3 461 L910.8 459.1 L906.7 458.9 L903.4 460.5 L901.3 463.8 L900.5 468.5 L901.1 474 Z" fill="#fff" stroke-width="2.5" />
<path d="M902.7 499.4 L904.6 505.2 L907.7 510.8 L911.7 515.7 L916.1 519.2 L920.6 521.2 L924.7 521.4 L927.9 519.7 L930.1 516.4 L930.9 511.8 L930.3 506.3 L925.1 482.9 L923.1 477 L920 471.4 L916.1 466.6 L911.7 463 L907.2 461.1 L903.1 460.9 L899.8 462.5 L897.7 465.8 L896.9 470.5 L897.5 476 Z" fill="#fff" stroke-width="2.5" />
<path d="M909.8 544.1 L910.6 549.7 L912.7 555.6 L915.9 561.1 L919.9 565.8 L924.4 569.2 L928.8 571 L932.8 570.9 L936 569.1 L938 565.6 L938.6 560.8 L938.5 542.6 L937.7 537 L935.6 531.2 L932.4 525.6 L928.4 520.9 L923.9 517.5 L919.5 515.8 L915.5 515.8 L912.3 517.7 L910.3 521.1 L909.7 525.9 Z" fill="#fff" stroke-width="2.5" />
<path d="M906.2 546.1 L907 551.7 L909.1 557.6 L912.3 563.1 L916.3 567.8 L920.8 571.2 L925.2 573 L929.2 572.9 L932.4 571.1 L934.4 567.6 L935 562.8 L934.9 544.6 L934.1 539 L932 533.2 L928.8 527.6 L924.8 522.9 L920.3 519.5 L915.9 517.8 L911.9 517.8 L908.7 519.7 L906.7 523.1 L906.1 527.9 Z" fill="#fff" stroke-width="2.5" />
<path d="M904.9 590.6 L904.8 595.6 L906 601.1 L908.5 606.6 L911.9 611.7 L916 615.8 L920.3 618.5 L924.5 619.5 L928 618.8 L930.7 616.3 L932.1 612.5 L935.5 592.9 L935.6 588 L934.3 582.5 L931.9 576.9 L928.4 571.8 L924.4 567.7 L920 565.1 L915.9 564.1 L912.3 564.8 L909.7 567.2 L908.3 571.1 Z" fill="#fff" stroke-width="2.5" />
<path d="M901.3 592.6 L901.2 597.6 L902.4 603.1 L904.9 608.6 L908.3 613.7 L912.4 617.8 L916.7 620.5 L920.9 621.5 L924.4 620.8 L927.1 618.3 L928.5 614.5 L931.9 594.9 L932 590 L930.7 584.5 L928.3 578.9 L924.8 573.8 L920.8 569.7 L916.4 567.1 L912.3 566.1 L908.7 566.8 L906.1 569.2 L904.7 573.1 Z" fill="#fff" stroke-width="2.5" />
<path d="M896.9 638.2 L896.8 642.9 L897.9 648.2 L900.3 653.6 L903.6 658.4 L907.5 662.4 L911.6 665 L915.6 666 L919 665.3 L921.6 663 L923 659.3 L926.7 638.6 L926.8 633.9 L925.7 628.6 L923.3 623.2 L920 618.4 L916.1 614.4 L912 611.8 L908 610.8 L904.5 611.5 L902 613.8 L900.6 617.5 Z" fill="#fff" stroke-width="2.5" />
<path d="M893.3 640.2 L893.2 644.9 L894.3 650.2 L896.7 655.6 L900 660.4 L903.9 664.4 L908 667 L912 668 L915.4 667.3 L918 665 L919.4 661.3 L923.1 640.6 L923.2 635.9 L922.1 630.6 L919.7 625.2 L916.4 620.4 L912.5 616.4 L908.4 613.8 L904.4 612.8 L900.9 613.5 L898.4 615.8 L897 619.5 Z" fill="#fff" stroke-width="2.5" />
<path d="M887.8 683.6 L887.6 688.1 L888.6 693.1 L890.7 698.3 L893.8 703.1 L897.5 707 L901.5 709.6 L905.4 710.8 L908.8 710.3 L911.3 708.3 L912.8 704.9 L917.3 684.4 L917.5 679.9 L916.5 674.9 L914.4 669.7 L911.3 664.9 L907.6 661 L903.6 658.4 L899.7 657.2 L896.4 657.7 L893.8 659.7 L892.3 663.2 Z" fill="#fff" stroke-width="2.5" />
<path d="M884.2 685.6 L884 690.1 L885 695.1 L887.1 700.3 L890.2 705.1 L893.9 709 L897.9 711.6 L901.8 712.8 L905.2 712.3 L907.7 710.3 L909.2 706.9 L913.7 686.4 L913.9 681.9 L912.9 676.9 L910.8 671.7 L907.7 666.9 L904 663 L900 660.4 L896.1 659.2 L892.8 659.7 L890.2 661.7 L888.7 665.2 Z" fill="#fff" stroke-width="2.5" />
<path d="M880.5 732 L880.6 736.6 L881.9 741.8 L884.3 746.9 L887.6 751.5 L891.4 755 L895.4 757.3 L899.2 758 L902.4 757.1 L904.7 754.6 L905.8 750.9 L908.6 728.7 L908.5 724 L907.2 718.9 L904.7 713.8 L901.4 709.2 L897.6 705.6 L893.6 703.3 L889.8 702.6 L886.7 703.6 L884.4 706 L883.2 709.8 Z" fill="#fff" stroke-width="2.5" />
<path d="M876.9 734 L877 738.6 L878.3 743.8 L880.7 748.9 L884 753.5 L887.8 757 L891.8 759.3 L895.6 760 L898.8 759.1 L901.1 756.6 L902.2 752.9 L905 730.7 L904.9 726 L903.6 720.9 L901.1 715.8 L897.8 711.2 L894 707.6 L890 705.3 L886.2 704.6 L883.1 705.6 L880.8 708 L879.6 711.8 Z" fill="#fff" stroke-width="2.5" />
<path d="M874.2 779.4 L874.2 784 L875.5 789.1 L877.9 794.3 L881.2 798.9 L885 802.5 L889 804.8 L892.8 805.5 L896 804.6 L898.3 802.2 L899.5 798.5 L902.3 776.8 L902.3 772.1 L901 767 L898.6 761.8 L895.3 757.3 L891.5 753.6 L887.5 751.3 L883.7 750.6 L880.5 751.5 L878.2 753.9 L877 757.6 Z" fill="#fff" stroke-width="2.5" />
<path d="M870.6 781.4 L870.6 786 L871.9 791.1 L874.3 796.3 L877.6 800.9 L881.4 804.5 L885.4 806.8 L889.2 807.5 L892.4 806.6 L894.7 804.2 L895.9 800.5 L898.7 778.8 L898.7 774.1 L897.4 769 L895 763.8 L891.7 759.3 L887.9 755.6 L883.9 753.3 L880.1 752.6 L876.9 753.5 L874.6 755.9 L873.4 759.6 Z" fill="#fff" stroke-width="2.5" />
<path d="M868.1 827.5 L868.2 832.2 L869.5 837.3 L872 842.4 L875.3 847 L879.1 850.6 L883.1 852.8 L886.9 853.5 L890 852.5 L892.3 850.1 L893.4 846.3 L896.1 824.1 L896 819.5 L894.7 814.3 L892.2 809.2 L888.9 804.6 L885.1 801.1 L881.1 798.8 L877.3 798.1 L874.1 799.1 L871.9 801.6 L870.8 805.3 Z" fill="#fff" stroke-width="2.5" />
<path d="M864.5 829.5 L864.6 834.2 L865.9 839.3 L868.4 844.4 L871.7 849 L875.5 852.6 L879.5 854.8 L883.3 855.5 L886.4 854.5 L888.7 852.1 L889.8 848.3 L892.5 826.1 L892.4 821.5 L891.1 816.3 L888.6 811.2 L885.3 806.6 L881.5 803.1 L877.5 800.8 L873.7 800.1 L870.5 801.1 L868.3 803.6 L867.2 807.3 Z" fill="#fff" stroke-width="2.5" />
<path d="M717.3 282.5 L721.2 282.2 L724.3 280.2 L726.1 276.6 L726.6 271.7 L725.7 266.1 L723.5 260.2 L720.2 254.7 L716.1 250.2 L711.6 246.9 L707.2 245.3 L691.8 242.9 L687.8 243.1 L684.8 245.2 L682.9 248.8 L682.4 253.7 L683.3 259.3 L685.5 265.1 L688.9 270.6 L693 275.2 L697.4 278.4 L701.9 280 Z" fill="#fff" stroke-width="2.5" />
<ellipse cx="694.3" cy="261" rx="7.2" ry="4.3" transform="rotate(62 694.3 261)" fill="none" stroke-width="2.6" />
<ellipse cx="715" cy="264.3" rx="7.2" ry="4.3" transform="rotate(62 715 264.3)" fill="none" stroke-width="2.6" />
<path d="M759.1 300.5 L763.4 301.5 L767.1 300.7 L769.8 298.2 L771.3 294.1 L771.3 288.9 L770 283.2 L767.4 277.4 L763.8 272.1 L759.6 267.9 L755 265.2 L737.9 257.9 L733.6 256.8 L729.9 257.6 L727.2 260.2 L725.8 264.3 L725.7 269.4 L727 275.2 L729.6 281 L733.2 286.2 L737.5 290.4 L742 293.2 Z" fill="#fff" stroke-width="2.5" />
<ellipse cx="737.3" cy="274.3" rx="7.2" ry="4.3" transform="rotate(62 737.3 274.3)" fill="none" stroke-width="2.6" />
<ellipse cx="760" cy="284" rx="7.2" ry="4.3" transform="rotate(62 760 284)" fill="none" stroke-width="2.6" />
<path d="M798.5 334.3 L803 337.4 L807.4 338.9 L811.3 338.6 L814.3 336.4 L816.1 332.7 L816.5 327.8 L815.5 322.2 L813.2 316.3 L809.9 310.9 L805.7 306.3 L790.2 292.5 L785.7 289.3 L781.3 287.9 L777.4 288.2 L774.4 290.3 L772.6 294 L772.2 299 L773.2 304.6 L775.5 310.5 L778.8 315.9 L783 320.4 Z" fill="#fff" stroke-width="2.5" />
<ellipse cx="784" cy="304" rx="7.2" ry="4.3" transform="rotate(62 784 304)" fill="none" stroke-width="2.6" />
<ellipse cx="805" cy="322.7" rx="7.2" ry="4.3" transform="rotate(62 805 322.7)" fill="none" stroke-width="2.6" />
<path d="M836 378.8 L840 383.5 L844.5 386.9 L848.9 388.6 L852.9 388.5 L856.1 386.6 L858 383.1 L858.7 378.3 L857.9 372.8 L855.8 366.9 L852.5 361.4 L838.1 341.2 L834.1 336.5 L829.6 333.2 L825.2 331.5 L821.2 331.5 L818.1 333.4 L816.1 336.9 L815.5 341.7 L816.2 347.3 L818.4 353.2 L821.6 358.7 Z" fill="#fff" stroke-width="2.5" />
<ellipse cx="827.7" cy="346.7" rx="7.2" ry="4.3" transform="rotate(62 827.7 346.7)" fill="none" stroke-width="2.6" />
<ellipse cx="846.7" cy="373.3" rx="7.2" ry="4.3" transform="rotate(62 846.7 373.3)" fill="none" stroke-width="2.6" />
<path d="M864.5 427.6 L868.2 432.7 L872.5 436.8 L877 439.4 L881.3 440.3 L884.9 439.3 L887.5 436.6 L888.8 432.4 L888.7 427.1 L887.3 421.4 L884.6 415.6 L873.6 396.8 L869.9 391.6 L865.6 387.5 L861.1 384.9 L856.8 384.1 L853.2 385.1 L850.6 387.8 L849.3 392 L849.4 397.2 L850.8 403 L853.5 408.8 Z" fill="#fff" stroke-width="2.5" />
<ellipse cx="861.7" cy="399.3" rx="7.2" ry="4.3" transform="rotate(62 861.7 399.3)" fill="none" stroke-width="2.6" />
<ellipse cx="876.7" cy="425" rx="7.2" ry="4.3" transform="rotate(62 876.7 425)" fill="none" stroke-width="2.6" />
<path d="M885.8 479.7 L888.4 485.5 L892.1 490.7 L896.4 494.8 L900.9 497.5 L905.2 498.4 L908.8 497.4 L911.4 494.8 L912.8 490.6 L912.8 485.4 L911.4 479.6 L903.9 458.6 L901.3 452.9 L897.6 447.7 L893.3 443.5 L888.8 440.9 L884.5 440 L880.9 440.9 L878.3 443.6 L876.9 447.7 L876.9 452.9 L878.3 458.7 Z" fill="#fff" stroke-width="2.5" />
<ellipse cx="890" cy="455" rx="7.2" ry="4.3" transform="rotate(62 890 455)" fill="none" stroke-width="2.6" />
<ellipse cx="900" cy="483.3" rx="7.2" ry="4.3" transform="rotate(62 900 483.3)" fill="none" stroke-width="2.6" />
<path d="M895.2 532.7 L896.7 538.5 L899.4 544.3 L903.1 549.5 L907.4 553.5 L911.9 556.1 L916.1 556.9 L919.7 555.9 L922.3 553.2 L923.6 549 L923.5 543.7 L920.5 522.3 L919.1 516.5 L916.3 510.8 L912.6 505.6 L908.3 501.5 L903.8 498.9 L899.6 498.1 L896 499.1 L893.4 501.9 L892.1 506.1 L892.2 511.3 Z" fill="#fff" stroke-width="2.5" />
<ellipse cx="906" cy="513.3" rx="7.2" ry="4.3" transform="rotate(62 906 513.3)" fill="none" stroke-width="2.6" />
<ellipse cx="910" cy="541.7" rx="7.2" ry="4.3" transform="rotate(62 910 541.7)" fill="none" stroke-width="2.6" />
<path d="M893.9 577.5 L894.3 582.7 L896 588.3 L898.8 593.8 L902.5 598.6 L906.7 602.2 L911.1 604.3 L915 604.7 L918.3 603.4 L920.6 600.4 L921.5 596.1 L922.7 577.6 L922.3 572.4 L920.6 566.8 L917.8 561.4 L914.1 556.6 L909.9 553 L905.6 550.8 L901.6 550.4 L898.3 551.8 L896.1 554.7 L895.1 559 Z" fill="#fff" stroke-width="2.5" />
<ellipse cx="909.2" cy="565.8" rx="7.2" ry="4.3" transform="rotate(62 909.2 565.8)" fill="none" stroke-width="2.6" />
<ellipse cx="907.7" cy="589.3" rx="7.2" ry="4.3" transform="rotate(62 907.7 589.3)" fill="none" stroke-width="2.6" />
<path d="M885.4 621.8 L885.1 626.5 L886.2 631.7 L888.4 637.1 L891.6 642 L895.5 646.1 L899.6 648.8 L903.6 650 L907.1 649.5 L909.8 647.4 L911.3 643.8 L915.1 626.5 L915.3 621.9 L914.3 616.6 L912.1 611.2 L908.8 606.3 L905 602.2 L900.8 599.5 L896.8 598.3 L893.3 598.8 L890.7 600.9 L889.1 604.5 Z" fill="#fff" stroke-width="2.5" />
<ellipse cx="902.6" cy="613.8" rx="7.2" ry="4.3" transform="rotate(62 902.6 613.8)" fill="none" stroke-width="2.6" />
<ellipse cx="898.1" cy="634.5" rx="7.2" ry="4.3" transform="rotate(62 898.1 634.5)" fill="none" stroke-width="2.6" />
<path d="M877.7 670.8 L877.7 675.4 L879 680.5 L881.3 685.7 L884.6 690.3 L888.4 694 L892.4 696.3 L896.2 697.1 L899.4 696.3 L901.8 694 L903 690.3 L905.9 670.5 L905.9 665.9 L904.7 660.8 L902.3 655.7 L899.1 651 L895.3 647.4 L891.3 645 L887.5 644.2 L884.2 645 L881.9 647.3 L880.7 651 Z" fill="#fff" stroke-width="2.5" />
<ellipse cx="893.6" cy="659.5" rx="7.2" ry="4.3" transform="rotate(62 893.6 659.5)" fill="none" stroke-width="2.6" />
<ellipse cx="890.3" cy="681.8" rx="7.2" ry="4.3" transform="rotate(62 890.3 681.8)" fill="none" stroke-width="2.6" />
<path d="M868.1 715.6 L868.2 720.3 L869.5 725.4 L871.9 730.5 L875.2 735.1 L879 738.7 L883 741 L886.8 741.7 L890 740.8 L892.3 738.4 L893.4 734.7 L896 714.8 L895.9 710.1 L894.6 705 L892.2 699.9 L888.9 695.3 L885.1 691.7 L881.1 689.4 L877.3 688.7 L874.1 689.6 L871.8 692 L870.7 695.7 Z" fill="#fff" stroke-width="2.5" />
<ellipse cx="883.6" cy="704" rx="7.2" ry="4.3" transform="rotate(62 883.6 704)" fill="none" stroke-width="2.6" />
<ellipse cx="880.7" cy="726.4" rx="7.2" ry="4.3" transform="rotate(62 880.7 726.4)" fill="none" stroke-width="2.6" />
<path d="M862.1 763.5 L862.2 768.2 L863.5 773.3 L865.9 778.4 L869.2 783 L873 786.6 L877 788.9 L880.8 789.6 L884 788.7 L886.3 786.3 L887.4 782.6 L890 762.8 L889.9 758.1 L888.6 753 L886.2 747.9 L882.9 743.3 L879.1 739.7 L875.1 737.4 L871.3 736.7 L868.1 737.6 L865.8 740 L864.7 743.7 Z" fill="#fff" stroke-width="2.5" />
<ellipse cx="877.6" cy="752" rx="7.2" ry="4.3" transform="rotate(62 877.6 752)" fill="none" stroke-width="2.6" />
<ellipse cx="874.7" cy="774.3" rx="7.2" ry="4.3" transform="rotate(62 874.7 774.3)" fill="none" stroke-width="2.6" />
<path d="M855.9 811.5 L856 816.2 L857.3 821.4 L859.8 826.5 L863.1 831 L866.9 834.6 L870.9 836.8 L874.7 837.5 L877.9 836.6 L880.1 834.1 L881.2 830.3 L883.7 809.5 L883.6 804.8 L882.3 799.6 L879.8 794.5 L876.5 790 L872.7 786.4 L868.7 784.2 L864.9 783.5 L861.7 784.4 L859.5 786.9 L858.4 790.7 Z" fill="#fff" stroke-width="2.5" />
<ellipse cx="871.3" cy="798.8" rx="7.2" ry="4.3" transform="rotate(62 871.3 798.8)" fill="none" stroke-width="2.6" />
<ellipse cx="868.5" cy="822.2" rx="7.2" ry="4.3" transform="rotate(62 868.5 822.2)" fill="none" stroke-width="2.6" />
<path d="M850.2 859.7 L850.4 864.5 L851.8 869.6 L854.3 874.7 L857.7 879.2 L861.5 882.7 L865.5 884.9 L869.3 885.5 L872.4 884.4 L874.6 881.9 L875.6 878.1 L877.8 857.2 L877.6 852.5 L876.2 847.4 L873.7 842.3 L870.3 837.8 L866.5 834.2 L862.5 832.1 L858.7 831.5 L855.6 832.5 L853.4 835.1 L852.4 838.9 Z" fill="#fff" stroke-width="2.5" />
<ellipse cx="865.3" cy="846.8" rx="7.2" ry="4.3" transform="rotate(62 865.3 846.8)" fill="none" stroke-width="2.6" />
<ellipse cx="862.9" cy="870.2" rx="7.2" ry="4.3" transform="rotate(62 862.9 870.2)" fill="none" stroke-width="2.6" />
<path d="M825.5 617.9 L826.2 617.5 L839.9 635.3 L843.1 632.9 L832.8 612.6 L833.4 612 L834.1 611.4 L848.6 628.1 L851.5 625 L840 605.2 L840.6 604.5 L841.2 603.8 L856.3 619.1 L858.8 615.4 L846.2 596.4 L846.7 595.5 L847.2 594.6 L862.8 608.4 L864.9 604.2 L851.4 586.1 L851.8 585.1 L852.2 584 L868.1 596.1 L869.7 591.3 L855.4 574.3 L855.7 573.2 L856 572.1 L872.1 582.3 L873.1 576.9 L858.1 561.2 L858.3 560 L858.5 558.8 L874.6 566.9 L875.1 561.1 L859.5 546.9 L859.6 545.6 L859.6 544.2 L875.5 550.3 L875.4 544 L859.5 531.5 L859.4 530 L859.4 528.6 L874.8 532.3 L874.2 525.6 L858 514.9 L857.8 513.4 L857.6 511.8 L872.4 513.2 L871.1 506 L855 497.4 L854.6 495.8 L854.2 494.2 L868.2 493 L866.2 485.5 L850.3 479.1 L849.8 477.4 L849.2 475.7 L862.1 472 L859.5 464.3 L843.9 460.1 L843.2 458.4 L842.6 456.7 L854.2 450.5 L850.8 442.6 L835.8 440.8 L835 439.1 L834.2 437.4 L844.3 428.7 L840.3 420.8 L826.1 421.5 L825.1 419.8 L824.1 418 L832.6 407 L827.9 399.2 L814.7 402.4 L813.6 400.7 L812.5 399 L819 385.7 L813.7 378.2 L801.8 384 L800.5 382.3 L799.3 380.7 L803.7 365.2 L797.8 358.2 L787.4 366.5 L786 364.9 L784.7 363.4 L786.9 346.1 L780.5 339.6 L771.8 350.4 L770.4 349.1 L768.9 347.7 L769 328.9 L762.5 323.4 L755.8 336.6 L754.3 335.5 L752.9 334.4 L750.9 314.5 L744.4 310 L739.8 325.3 L738.3 324.4 L736.9 323.5 L732.9 303 L726.6 299.5 L724 316.6 L722.7 315.9 L721.3 315.3 L715.5 294.3 L709.6 292 L709.3 310.5 L708.1 310.1 L706.8 309.7 L699.7 288.7 L694.4 287.3 L696.2 306.9 L695.1 306.7 L694 306.5 L685.5 285.6 L680.9 285 L684.5 305.3 L683.5 305.2 L682.6 305.2 L673 284.6 L668.8 284.6 L674.1 305.3 L673.2 305.3 L672.3 305.4 L661.7 285.2 L657.9 285.8 L664.5 306.6 L663.7 306.8 L662.9 307 L651.3 287.3 L647.8 288.4 L655.9 309.2 L655.1 309.4 L654.4 309.7 L642 290.7 L638.8 292.2 L648.1 312.8 L647.4 313.2 L646.7 313.6 L633.5 295.3 L630.6 297.3 L640.9 317.5 L640.3 318 L639.7 318.5 L625.7 301.2 L623 303.7 L634.2 323.6 L633.7 324.2 L633.1 324.8 L618.4 308.7 L615.9 311.7 L628.1 331 L627.6 331.8 L627.1 332.5 L611.8 317.7 L609.7 321.4 L622.7 340 L622.3 340.9 L621.8 341.8 L606.1 328.7 L604.2 333.3 L618 351 L617.7 352.2 L617.3 353.3 L601.2 342.3 L599.7 347.9 L614.3 364.6 L614.1 366 L613.8 367.4 L597.6 358.9 L596.7 365.7 L612.1 381.1 L612 382.8 L611.9 384.4 L595.9 379 L595.9 387.1 L611.9 400.7 L612 402.5 L612.1 404.4 L596.8 401.9 L597.7 410.5 L614 421.6 L614.3 423.5 L614.6 425.5 L600.2 425.8 L602.1 434.6 L618.4 443.1 L618.9 445 L619.4 446.9 L606.2 450.1 L608.9 458.8 L624.8 464.6 L625.5 466.5 L626.2 468.4 L614.3 474.3 L617.7 482.9 L633.1 485.8 L634 487.7 L634.8 489.5 L624.4 497.9 L628.5 506.2 L643 506.3 L644 508.1 L645 509.9 L636.3 520.6 L640.9 528.5 L654.3 525.8 L655.3 527.5 L656.4 529.1 L649.4 541.9 L654.3 549.1 L666.3 543.6 L667.4 545.1 L668.5 546.6 L663.2 561.1 L668.3 567.5 L678.8 559.6 L680 560.9 L681.1 562.2 L677.4 578.3 L682.6 583.9 L691.5 573.7 L692.7 574.8 L693.8 576 L691.8 593.3 L697 598.2 L704.3 585.9 L705.4 586.9 L706.5 587.9 L706.1 606.2 L711.2 610.4 L716.8 596.3 L717.9 597.2 L719 598 L720.1 617.2 L725.1 620.7 L729.1 605.1 L730.2 605.8 L731.3 606.5 L733.8 626.3 L738.6 629.1 L741 612.2 L742 612.8 L743.1 613.3 L747 633.6 L751.6 635.8 L752.5 617.8 L753.5 618.2 L754.5 618.7 L759.8 639.3 L764.4 641 L763.8 622.1 L764.8 622.4 L765.8 622.7 L772.6 643.6 L777.1 644.7 L774.9 625.1 L775.9 625.3 L776.9 625.5 L785 646.3 L789.4 646.9 L785.8 626.6 L786.8 626.7 L787.8 626.8 L797.1 647.4 L801.4 647.4 L796.3 626.8 L797.3 626.7 L798.2 626.7 L808.8 646.9 L812.9 646.3 L806.4 625.5 L807.3 625.3 L808.1 625.1 L819.9 644.7 L823.7 643.6 L815.9 622.7 L816.7 622.4 L817.5 622 L830.3 640.9 L833.8 639.1 L824.7 618.4 Z" fill="#fff" stroke-width="2.5" stroke="none"/>
<path d="M664.4 594.4 L673.4 584.2 L691.5 573.7 L682.6 583.9 Z" fill="#fff" stroke-width="2.5" stroke-linejoin="round"/>
<path d="M601.2 457.4 L588 460.6 L606.2 450.1 L619.4 446.9 Z" fill="#fff" stroke-width="2.5" stroke-linejoin="round"/>
<path d="M678.8 608.7 L686.1 596.4 L704.3 585.9 L697 598.2 Z" fill="#fff" stroke-width="2.5" stroke-linejoin="round"/>
<path d="M596.5 436 L582.1 436.3 L600.2 425.8 L614.6 425.5 Z" fill="#fff" stroke-width="2.5" stroke-linejoin="round"/>
<path d="M693 620.9 L698.6 606.8 L716.8 596.3 L711.2 610.4 Z" fill="#fff" stroke-width="2.5" stroke-linejoin="round"/>
<path d="M593.9 414.9 L578.6 412.4 L596.8 401.9 L612.1 404.4 Z" fill="#fff" stroke-width="2.5" stroke-linejoin="round"/>
<path d="M706.9 631.2 L710.9 615.6 L729.1 605.1 L725.1 620.7 Z" fill="#fff" stroke-width="2.5" stroke-linejoin="round"/>
<path d="M720.4 639.6 L722.8 622.7 L741 612.2 L738.6 629.1 Z" fill="#fff" stroke-width="2.5" stroke-linejoin="round"/>
<path d="M593.7 394.9 L577.7 389.5 L595.9 379 L611.9 384.4 Z" fill="#fff" stroke-width="2.5" stroke-linejoin="round"/>
<path d="M733.5 646.3 L734.3 628.3 L752.5 617.8 L751.6 635.8 Z" fill="#fff" stroke-width="2.5" stroke-linejoin="round"/>
<path d="M595.6 377.9 L579.4 369.4 L597.6 358.9 L613.8 367.4 Z" fill="#fff" stroke-width="2.5" stroke-linejoin="round"/>
<path d="M746.3 651.5 L745.6 632.6 L763.8 622.1 L764.4 641 Z" fill="#fff" stroke-width="2.5" stroke-linejoin="round"/>
<path d="M599.1 363.8 L583 352.8 L601.2 342.3 L617.3 353.3 Z" fill="#fff" stroke-width="2.5" stroke-linejoin="round"/>
<path d="M758.9 655.2 L756.8 635.6 L774.9 625.1 L777.1 644.7 Z" fill="#fff" stroke-width="2.5" stroke-linejoin="round"/>
<path d="M771.2 657.4 L767.6 637.1 L785.8 626.6 L789.4 646.9 Z" fill="#fff" stroke-width="2.5" stroke-linejoin="round"/>
<path d="M603.7 352.3 L587.9 339.2 L606.1 328.7 L621.8 341.8 Z" fill="#fff" stroke-width="2.5" stroke-linejoin="round"/>
<path d="M783.2 657.9 L778.2 637.3 L796.3 626.8 L801.4 647.4 Z" fill="#fff" stroke-width="2.5" stroke-linejoin="round"/>
<path d="M608.9 343 L593.7 328.2 L611.8 317.7 L627.1 332.5 Z" fill="#fff" stroke-width="2.5" stroke-linejoin="round"/>
<path d="M794.7 656.8 L788.2 636 L806.4 625.5 L812.9 646.3 Z" fill="#fff" stroke-width="2.5" stroke-linejoin="round"/>
<path d="M614.9 335.3 L600.2 319.2 L618.4 308.7 L633.1 324.8 Z" fill="#fff" stroke-width="2.5" stroke-linejoin="round"/>
<path d="M621.5 329 L607.5 311.7 L625.7 301.2 L639.7 318.5 Z" fill="#fff" stroke-width="2.5" stroke-linejoin="round"/>
<path d="M805.5 654.1 L797.7 633.2 L815.9 622.7 L823.7 643.6 Z" fill="#fff" stroke-width="2.5" stroke-linejoin="round"/>
<path d="M628.6 324.1 L615.3 305.8 L633.5 295.3 L646.7 313.6 Z" fill="#fff" stroke-width="2.5" stroke-linejoin="round"/>
<path d="M815.6 649.6 L806.5 628.9 L824.7 618.4 L833.8 639.1 Z" fill="#fff" stroke-width="2.5" stroke-linejoin="round"/>
<path d="M636.2 320.2 L623.8 301.2 L642 290.7 L654.4 309.7 Z" fill="#fff" stroke-width="2.5" stroke-linejoin="round"/>
<path d="M824.9 643.4 L814.6 623.1 L832.8 612.6 L843.1 632.9 Z" fill="#fff" stroke-width="2.5" stroke-linejoin="round"/>
<path d="M815.3 622.5 L815.9 621.9 L834.1 611.4 L833.4 612 Z" fill="#fff" stroke-width="2.5" stroke-linejoin="round"/>
<path d="M633.2 297.8 L629.7 298.9 L647.8 288.4 L651.3 287.3 Z" fill="#fff" stroke-width="2.5" stroke-linejoin="round"/>
<path d="M644.7 317.5 L633.2 297.8 L651.3 287.3 L662.9 307 Z" fill="#fff" stroke-width="2.5" stroke-linejoin="round"/>
<path d="M645.5 317.3 L644.7 317.5 L662.9 307 L663.7 306.8 Z" fill="#fff" stroke-width="2.5" stroke-linejoin="round"/>
<path d="M646.4 317.1 L645.5 317.3 L663.7 306.8 L664.5 306.6 Z" fill="#fff" stroke-width="2.5" stroke-linejoin="round"/>
<path d="M830.4 638.6 L833.3 635.5 L851.5 625 L848.6 628.1 Z" fill="#fff" stroke-width="2.5" stroke-linejoin="round"/>
<path d="M833.3 635.5 L821.8 615.7 L840 605.2 L851.5 625 Z" fill="#fff" stroke-width="2.5" stroke-linejoin="round"/>
<path d="M821.8 615.7 L822.4 615 L840.6 604.5 L840 605.2 Z" fill="#fff" stroke-width="2.5" stroke-linejoin="round"/>
<path d="M822.4 615 L823 614.3 L841.2 603.8 L840.6 604.5 Z" fill="#fff" stroke-width="2.5" stroke-linejoin="round"/>
<path d="M643.5 295.7 L639.7 296.3 L657.9 285.8 L661.7 285.2 Z" fill="#fff" stroke-width="2.5" stroke-linejoin="round"/>
<path d="M655 315.8 L654.1 315.9 L672.3 305.4 L673.2 305.3 Z" fill="#fff" stroke-width="2.5" stroke-linejoin="round"/>
<path d="M654.1 315.9 L643.5 295.7 L661.7 285.2 L672.3 305.4 Z" fill="#fff" stroke-width="2.5" stroke-linejoin="round"/>
<path d="M655.9 315.8 L655 315.8 L673.2 305.3 L674.1 305.3 Z" fill="#fff" stroke-width="2.5" stroke-linejoin="round"/>
<path d="M838.1 629.6 L840.6 625.9 L858.8 615.4 L856.3 619.1 Z" fill="#fff" stroke-width="2.5" stroke-linejoin="round"/>
<path d="M828 606.9 L828.5 606 L846.7 595.5 L846.2 596.4 Z" fill="#fff" stroke-width="2.5" stroke-linejoin="round"/>
<path d="M840.6 625.9 L828 606.9 L846.2 596.4 L858.8 615.4 Z" fill="#fff" stroke-width="2.5" stroke-linejoin="round"/>
<path d="M828.5 606 L829 605.1 L847.2 594.6 L846.7 595.5 Z" fill="#fff" stroke-width="2.5" stroke-linejoin="round"/>
<path d="M654.9 295.1 L650.7 295.1 L668.8 284.6 L673 284.6 Z" fill="#fff" stroke-width="2.5" stroke-linejoin="round"/>
<path d="M665.3 315.7 L664.4 315.7 L682.6 305.2 L683.5 305.2 Z" fill="#fff" stroke-width="2.5" stroke-linejoin="round"/>
<path d="M664.4 315.7 L654.9 295.1 L673 284.6 L682.6 305.2 Z" fill="#fff" stroke-width="2.5" stroke-linejoin="round"/>
<path d="M666.3 315.8 L665.3 315.7 L683.5 305.2 L684.5 305.3 Z" fill="#fff" stroke-width="2.5" stroke-linejoin="round"/>
<path d="M833.2 596.6 L833.6 595.6 L851.8 585.1 L851.4 586.1 Z" fill="#fff" stroke-width="2.5" stroke-linejoin="round"/>
<path d="M844.7 618.9 L846.7 614.7 L864.9 604.2 L862.8 608.4 Z" fill="#fff" stroke-width="2.5" stroke-linejoin="round"/>
<path d="M833.6 595.6 L834 594.5 L852.2 584 L851.8 585.1 Z" fill="#fff" stroke-width="2.5" stroke-linejoin="round"/>
<path d="M846.7 614.7 L833.2 596.6 L851.4 586.1 L864.9 604.2 Z" fill="#fff" stroke-width="2.5" stroke-linejoin="round"/>
<path d="M676.9 317.2 L675.8 317 L694 306.5 L695.1 306.7 Z" fill="#fff" stroke-width="2.5" stroke-linejoin="round"/>
<path d="M667.3 296.1 L662.7 295.5 L680.9 285 L685.5 285.6 Z" fill="#fff" stroke-width="2.5" stroke-linejoin="round"/>
<path d="M678 317.4 L676.9 317.2 L695.1 306.7 L696.2 306.9 Z" fill="#fff" stroke-width="2.5" stroke-linejoin="round"/>
<path d="M675.8 317 L667.3 296.1 L685.5 285.6 L694 306.5 Z" fill="#fff" stroke-width="2.5" stroke-linejoin="round"/>
<path d="M837.2 584.8 L837.5 583.7 L855.7 573.2 L855.4 574.3 Z" fill="#fff" stroke-width="2.5" stroke-linejoin="round"/>
<path d="M837.5 583.7 L837.8 582.6 L856 572.1 L855.7 573.2 Z" fill="#fff" stroke-width="2.5" stroke-linejoin="round"/>
<path d="M851.5 601.8 L837.2 584.8 L855.4 574.3 L869.7 591.3 Z" fill="#fff" stroke-width="2.5" stroke-linejoin="round"/>
<path d="M850 606.6 L851.5 601.8 L869.7 591.3 L868.1 596.1 Z" fill="#fff" stroke-width="2.5" stroke-linejoin="round"/>
<path d="M689.9 320.6 L688.7 320.2 L706.8 309.7 L708.1 310.1 Z" fill="#fff" stroke-width="2.5" stroke-linejoin="round"/>
<path d="M691.1 321 L689.9 320.6 L708.1 310.1 L709.3 310.5 Z" fill="#fff" stroke-width="2.5" stroke-linejoin="round"/>
<path d="M688.7 320.2 L681.5 299.2 L699.7 288.7 L706.8 309.7 Z" fill="#fff" stroke-width="2.5" stroke-linejoin="round"/>
<path d="M681.5 299.2 L676.2 297.8 L694.4 287.3 L699.7 288.7 Z" fill="#fff" stroke-width="2.5" stroke-linejoin="round"/>
<path d="M839.9 571.7 L840.1 570.5 L858.3 560 L858.1 561.2 Z" fill="#fff" stroke-width="2.5" stroke-linejoin="round"/>
<path d="M840.1 570.5 L840.3 569.3 L858.5 558.8 L858.3 560 Z" fill="#fff" stroke-width="2.5" stroke-linejoin="round"/>
<path d="M855 587.4 L839.9 571.7 L858.1 561.2 L873.1 576.9 Z" fill="#fff" stroke-width="2.5" stroke-linejoin="round"/>
<path d="M853.9 592.8 L855 587.4 L873.1 576.9 L872.1 582.3 Z" fill="#fff" stroke-width="2.5" stroke-linejoin="round"/>
<path d="M704.5 326.4 L703.1 325.8 L721.3 315.3 L722.7 315.9 Z" fill="#fff" stroke-width="2.5" stroke-linejoin="round"/>
<path d="M705.9 327.1 L704.5 326.4 L722.7 315.9 L724 316.6 Z" fill="#fff" stroke-width="2.5" stroke-linejoin="round"/>
<path d="M703.1 325.8 L697.4 304.8 L715.5 294.3 L721.3 315.3 Z" fill="#fff" stroke-width="2.5" stroke-linejoin="round"/>
<path d="M697.4 304.8 L691.4 302.5 L709.6 292 L715.5 294.3 Z" fill="#fff" stroke-width="2.5" stroke-linejoin="round"/>
<path d="M841.3 557.4 L841.4 556.1 L859.6 545.6 L859.5 546.9 Z" fill="#fff" stroke-width="2.5" stroke-linejoin="round"/>
<path d="M841.4 556.1 L841.4 554.7 L859.6 544.2 L859.6 545.6 Z" fill="#fff" stroke-width="2.5" stroke-linejoin="round"/>
<path d="M856.9 571.6 L841.3 557.4 L859.5 546.9 L875.1 561.1 Z" fill="#fff" stroke-width="2.5" stroke-linejoin="round"/>
<path d="M856.4 577.4 L856.9 571.6 L875.1 561.1 L874.6 566.9 Z" fill="#fff" stroke-width="2.5" stroke-linejoin="round"/>
<path d="M720.1 334.9 L718.7 334 L736.9 323.5 L738.3 324.4 Z" fill="#fff" stroke-width="2.5" stroke-linejoin="round"/>
<path d="M721.6 335.8 L720.1 334.9 L738.3 324.4 L739.8 325.3 Z" fill="#fff" stroke-width="2.5" stroke-linejoin="round"/>
<path d="M841.3 542 L841.3 540.5 L859.4 530 L859.5 531.5 Z" fill="#fff" stroke-width="2.5" stroke-linejoin="round"/>
<path d="M841.3 540.5 L841.2 539.1 L859.4 528.6 L859.4 530 Z" fill="#fff" stroke-width="2.5" stroke-linejoin="round"/>
<path d="M718.7 334 L714.8 313.5 L732.9 303 L736.9 323.5 Z" fill="#fff" stroke-width="2.5" stroke-linejoin="round"/>
<path d="M714.8 313.5 L708.4 310 L726.6 299.5 L732.9 303 Z" fill="#fff" stroke-width="2.5" stroke-linejoin="round"/>
<path d="M857.3 554.5 L841.3 542 L859.5 531.5 L875.4 544 Z" fill="#fff" stroke-width="2.5" stroke-linejoin="round"/>
<path d="M857.3 560.8 L857.3 554.5 L875.4 544 L875.5 550.3 Z" fill="#fff" stroke-width="2.5" stroke-linejoin="round"/>
<path d="M736.1 346 L734.7 344.9 L752.9 334.4 L754.3 335.5 Z" fill="#fff" stroke-width="2.5" stroke-linejoin="round"/>
<path d="M737.6 347.1 L736.1 346 L754.3 335.5 L755.8 336.6 Z" fill="#fff" stroke-width="2.5" stroke-linejoin="round"/>
<path d="M839.8 525.4 L839.6 523.9 L857.8 513.4 L858 514.9 Z" fill="#fff" stroke-width="2.5" stroke-linejoin="round"/>
<path d="M839.6 523.9 L839.4 522.3 L857.6 511.8 L857.8 513.4 Z" fill="#fff" stroke-width="2.5" stroke-linejoin="round"/>
<path d="M734.7 344.9 L732.7 325 L750.9 314.5 L752.9 334.4 Z" fill="#fff" stroke-width="2.5" stroke-linejoin="round"/>
<path d="M856 536.1 L839.8 525.4 L858 514.9 L874.2 525.6 Z" fill="#fff" stroke-width="2.5" stroke-linejoin="round"/>
<path d="M732.7 325 L726.2 320.5 L744.4 310 L750.9 314.5 Z" fill="#fff" stroke-width="2.5" stroke-linejoin="round"/>
<path d="M836.8 507.9 L836.4 506.3 L854.6 495.8 L855 497.4 Z" fill="#fff" stroke-width="2.5" stroke-linejoin="round"/>
<path d="M752.2 359.6 L750.7 358.2 L768.9 347.7 L770.4 349.1 Z" fill="#fff" stroke-width="2.5" stroke-linejoin="round"/>
<path d="M836.4 506.3 L836 504.7 L854.2 494.2 L854.6 495.8 Z" fill="#fff" stroke-width="2.5" stroke-linejoin="round"/>
<path d="M856.6 542.8 L856 536.1 L874.2 525.6 L874.8 532.3 Z" fill="#fff" stroke-width="2.5" stroke-linejoin="round"/>
<path d="M753.6 360.9 L752.2 359.6 L770.4 349.1 L771.8 350.4 Z" fill="#fff" stroke-width="2.5" stroke-linejoin="round"/>
<path d="M852.9 516.5 L836.8 507.9 L855 497.4 L871.1 506 Z" fill="#fff" stroke-width="2.5" stroke-linejoin="round"/>
<path d="M750.7 358.2 L750.8 339.4 L769 328.9 L768.9 347.7 Z" fill="#fff" stroke-width="2.5" stroke-linejoin="round"/>
<path d="M832.1 489.6 L831.6 487.9 L849.8 477.4 L850.3 479.1 Z" fill="#fff" stroke-width="2.5" stroke-linejoin="round"/>
<path d="M831.6 487.9 L831.1 486.2 L849.2 475.7 L849.8 477.4 Z" fill="#fff" stroke-width="2.5" stroke-linejoin="round"/>
<path d="M767.8 375.4 L766.5 373.9 L784.7 363.4 L786 364.9 Z" fill="#fff" stroke-width="2.5" stroke-linejoin="round"/>
<path d="M769.2 377 L767.8 375.4 L786 364.9 L787.4 366.5 Z" fill="#fff" stroke-width="2.5" stroke-linejoin="round"/>
<path d="M750.8 339.4 L744.3 333.9 L762.5 323.4 L769 328.9 Z" fill="#fff" stroke-width="2.5" stroke-linejoin="round"/>
<path d="M854.2 523.7 L852.9 516.5 L871.1 506 L872.4 513.2 Z" fill="#fff" stroke-width="2.5" stroke-linejoin="round"/>
<path d="M825.7 470.6 L825 468.9 L843.2 458.4 L843.9 460.1 Z" fill="#fff" stroke-width="2.5" stroke-linejoin="round"/>
<path d="M825 468.9 L824.4 467.2 L842.6 456.7 L843.2 458.4 Z" fill="#fff" stroke-width="2.5" stroke-linejoin="round"/>
<path d="M782.3 392.8 L781.1 391.2 L799.3 380.7 L800.5 382.3 Z" fill="#fff" stroke-width="2.5" stroke-linejoin="round"/>
<path d="M848.1 496 L832.1 489.6 L850.3 479.1 L866.2 485.5 Z" fill="#fff" stroke-width="2.5" stroke-linejoin="round"/>
<path d="M783.6 394.5 L782.3 392.8 L800.5 382.3 L801.8 384 Z" fill="#fff" stroke-width="2.5" stroke-linejoin="round"/>
<path d="M766.5 373.9 L768.7 356.6 L786.9 346.1 L784.7 363.4 Z" fill="#fff" stroke-width="2.5" stroke-linejoin="round"/>
<path d="M817.6 451.3 L816.8 449.6 L835 439.1 L835.8 440.8 Z" fill="#fff" stroke-width="2.5" stroke-linejoin="round"/>
<path d="M816.8 449.6 L816 447.9 L834.2 437.4 L835 439.1 Z" fill="#fff" stroke-width="2.5" stroke-linejoin="round"/>
<path d="M795.4 411.2 L794.3 409.5 L812.5 399 L813.6 400.7 Z" fill="#fff" stroke-width="2.5" stroke-linejoin="round"/>
<path d="M796.5 412.9 L795.4 411.2 L813.6 400.7 L814.7 402.4 Z" fill="#fff" stroke-width="2.5" stroke-linejoin="round"/>
<path d="M807.9 432 L806.9 430.3 L825.1 419.8 L826.1 421.5 Z" fill="#fff" stroke-width="2.5" stroke-linejoin="round"/>
<path d="M806.9 430.3 L806 428.5 L824.1 418 L825.1 419.8 Z" fill="#fff" stroke-width="2.5" stroke-linejoin="round"/>
<path d="M850 503.5 L848.1 496 L866.2 485.5 L868.2 493 Z" fill="#fff" stroke-width="2.5" stroke-linejoin="round"/>
<path d="M841.3 474.8 L825.7 470.6 L843.9 460.1 L859.5 464.3 Z" fill="#fff" stroke-width="2.5" stroke-linejoin="round"/>
<path d="M768.7 356.6 L762.3 350.1 L780.5 339.6 L786.9 346.1 Z" fill="#fff" stroke-width="2.5" stroke-linejoin="round"/>
<path d="M781.1 391.2 L785.5 375.7 L803.7 365.2 L799.3 380.7 Z" fill="#fff" stroke-width="2.5" stroke-linejoin="round"/>
<path d="M832.7 453.1 L817.6 451.3 L835.8 440.8 L850.8 442.6 Z" fill="#fff" stroke-width="2.5" stroke-linejoin="round"/>
<path d="M794.3 409.5 L800.8 396.2 L819 385.7 L812.5 399 Z" fill="#fff" stroke-width="2.5" stroke-linejoin="round"/>
<path d="M809.7 409.7 L796.5 412.9 L814.7 402.4 L827.9 399.2 Z" fill="#fff" stroke-width="2.5" stroke-linejoin="round"/>
<path d="M822.1 431.3 L807.9 432 L826.1 421.5 L840.3 420.8 Z" fill="#fff" stroke-width="2.5" stroke-linejoin="round"/>
<path d="M806 428.5 L814.4 417.5 L832.6 407 L824.1 418 Z" fill="#fff" stroke-width="2.5" stroke-linejoin="round"/>
<path d="M844 482.5 L841.3 474.8 L859.5 464.3 L862.1 472 Z" fill="#fff" stroke-width="2.5" stroke-linejoin="round"/>
<path d="M785.5 375.7 L779.6 368.7 L797.8 358.2 L803.7 365.2 Z" fill="#fff" stroke-width="2.5" stroke-linejoin="round"/>
<path d="M836 461 L832.7 453.1 L850.8 442.6 L854.2 450.5 Z" fill="#fff" stroke-width="2.5" stroke-linejoin="round"/>
<path d="M800.8 396.2 L795.5 388.7 L813.7 378.2 L819 385.7 Z" fill="#fff" stroke-width="2.5" stroke-linejoin="round"/>
<path d="M826.1 439.2 L822.1 431.3 L840.3 420.8 L844.3 428.7 Z" fill="#fff" stroke-width="2.5" stroke-linejoin="round"/>
<path d="M814.4 417.5 L809.7 409.7 L827.9 399.2 L832.6 407 Z" fill="#fff" stroke-width="2.5" stroke-linejoin="round"/>
<path d="M807.3 628.4 L808 628 L821.7 645.8 L824.9 643.4 L814.6 623.1 L815.3 622.5 L815.9 621.9 L830.4 638.6 L833.3 635.5 L821.8 615.7 L822.4 615 L823 614.3 L838.1 629.6 L840.6 625.9 L828 606.9 L828.5 606 L829 605.1 L844.7 618.9 L846.7 614.7 L833.2 596.6 L833.6 595.6 L834 594.5 L850 606.6 L851.5 601.8 L837.2 584.8 L837.5 583.7 L837.8 582.6 L853.9 592.8 L855 587.4 L839.9 571.7 L840.1 570.5 L840.3 569.3 L856.4 577.4 L856.9 571.6 L841.3 557.4 L841.4 556.1 L841.4 554.7 L857.3 560.8 L857.3 554.5 L841.3 542 L841.3 540.5 L841.2 539.1 L856.6 542.8 L856 536.1 L839.8 525.4 L839.6 523.9 L839.4 522.3 L854.2 523.7 L852.9 516.5 L836.8 507.9 L836.4 506.3 L836 504.7 L850 503.5 L848.1 496 L832.1 489.6 L831.6 487.9 L831.1 486.2 L844 482.5 L841.3 474.8 L825.7 470.6 L825 468.9 L824.4 467.2 L836 461 L832.7 453.1 L817.6 451.3 L816.8 449.6 L816 447.9 L826.1 439.2 L822.1 431.3 L807.9 432 L806.9 430.3 L806 428.5 L814.4 417.5 L809.7 409.7 L796.5 412.9 L795.4 411.2 L794.3 409.5 L800.8 396.2 L795.5 388.7 L783.6 394.5 L782.3 392.8 L781.1 391.2 L785.5 375.7 L779.6 368.7 L769.2 377 L767.8 375.4 L766.5 373.9 L768.7 356.6 L762.3 350.1 L753.6 360.9 L752.2 359.6 L750.7 358.2 L750.8 339.4 L744.3 333.9 L737.6 347.1 L736.1 346 L734.7 344.9 L732.7 325 L726.2 320.5 L721.6 335.8 L720.1 334.9 L718.7 334 L714.8 313.5 L708.4 310 L705.9 327.1 L704.5 326.4 L703.1 325.8 L697.4 304.8 L691.4 302.5 L691.1 321 L689.9 320.6 L688.7 320.2 L681.5 299.2 L676.2 297.8 L678 317.4 L676.9 317.2 L675.8 317 L667.3 296.1 L662.7 295.5 L666.3 315.8 L665.3 315.7 L664.4 315.7 L654.9 295.1 L650.7 295.1 L655.9 315.8 L655 315.8 L654.1 315.9 L643.5 295.7 L639.7 296.3 L646.4 317.1 L645.5 317.3 L644.7 317.5 L633.2 297.8 L629.7 298.9 L637.7 319.7 L636.9 319.9 L636.2 320.2 L623.8 301.2 L620.6 302.7 L629.9 323.3 L629.2 323.7 L628.6 324.1 L615.3 305.8 L612.5 307.8 L622.7 328 L622.1 328.5 L621.5 329 L607.5 311.7 L604.8 314.2 L616.1 334.1 L615.5 334.7 L614.9 335.3 L600.2 319.2 L597.8 322.2 L610 341.5 L609.4 342.3 L608.9 343 L593.7 328.2 L591.5 331.9 L604.6 350.5 L604.1 351.4 L603.7 352.3 L587.9 339.2 L586 343.8 L599.9 361.5 L599.5 362.7 L599.1 363.8 L583 352.8 L581.5 358.4 L596.1 375.1 L595.9 376.5 L595.6 377.9 L579.4 369.4 L578.6 376.2 L593.9 391.6 L593.8 393.3 L593.7 394.9 L577.7 389.5 L577.7 397.6 L593.7 411.2 L593.8 413 L593.9 414.9 L578.6 412.4 L579.5 421 L595.8 432.1 L596.1 434 L596.5 436 L582.1 436.3 L583.9 445.1 L600.2 453.6 L600.7 455.5 L601.2 457.4 L588 460.6 L590.7 469.3 L606.7 475.1 L607.3 477 L608 478.9 L596.1 484.8 L599.6 493.4 L614.9 496.3 L615.8 498.2 L616.6 500 L606.2 508.4 L610.3 516.7 L624.8 516.8 L625.8 518.6 L626.8 520.4 L618.1 531.1 L622.7 539 L636.1 536.3 L637.1 538 L638.2 539.6 L631.2 552.4 L636.1 559.6 L648.1 554.1 L649.2 555.6 L650.4 557.1 L645 571.6 L650.1 578 L660.6 570.1 L661.8 571.4 L662.9 572.7 L659.3 588.8 L664.4 594.4 L673.4 584.2 L674.5 585.3 L675.7 586.5 L673.6 603.8 L678.8 608.7 L686.1 596.4 L687.2 597.4 L688.3 598.4 L687.9 616.7 L693 620.9 L698.6 606.8 L699.7 607.7 L700.9 608.5 L701.9 627.7 L706.9 631.2 L710.9 615.6 L712 616.3 L713.1 617 L715.6 636.8 L720.4 639.6 L722.8 622.7 L723.9 623.3 L724.9 623.8 L728.8 644.1 L733.5 646.3 L734.3 628.3 L735.3 628.7 L736.3 629.2 L741.7 649.8 L746.3 651.5 L745.6 632.6 L746.6 632.9 L747.6 633.2 L754.4 654.1 L758.9 655.2 L756.8 635.6 L757.7 635.8 L758.7 636 L766.8 656.8 L771.2 657.4 L767.6 637.1 L768.6 637.2 L769.6 637.3 L779 657.9 L783.2 657.9 L778.2 637.3 L779.1 637.2 L780 637.2 L790.6 657.4 L794.7 656.8 L788.2 636 L789.1 635.8 L790 635.6 L801.7 655.2 L805.5 654.1 L797.7 633.2 L798.5 632.9 L799.3 632.5 L812.1 651.4 L815.6 649.6 L806.5 628.9 Z" fill="#fff" stroke-width="2.5" stroke-linejoin="round"/>
<ellipse cx="717.5" cy="476.5" rx="170" ry="96.9" transform="rotate(60 717.5 476.5)" fill="#fff" stroke-width="2.5" />
<clipPath id="c1"><ellipse cx="717.5" cy="476.5" rx="170" ry="96.9" transform="rotate(60 717.5 476.5)"/></clipPath>
<g clip-path="url(#c1)">
<ellipse cx="722.7" cy="473.5" rx="170" ry="96.9" transform="rotate(60 722.7 473.5)" fill="none" stroke-width="2.5" />
</g>
<ellipse cx="643" cy="424" rx="32.5" ry="18.7" transform="rotate(60 643 424)" fill="none" stroke-width="2.5" />
<clipPath id="c2"><ellipse cx="643" cy="424" rx="32.5" ry="18.7" transform="rotate(60 643 424)"/></clipPath>
<g clip-path="url(#c2)">
<ellipse cx="649.1" cy="420.5" rx="32.5" ry="18.7" transform="rotate(60 649.1 420.5)" fill="none" stroke-width="2.5" />
</g>
<ellipse cx="666" cy="506" rx="32.5" ry="18.7" transform="rotate(60 666 506)" fill="none" stroke-width="2.5" />
<clipPath id="c3"><ellipse cx="666" cy="506" rx="32.5" ry="18.7" transform="rotate(60 666 506)"/></clipPath>
<g clip-path="url(#c3)">
<ellipse cx="672.1" cy="502.5" rx="32.5" ry="18.7" transform="rotate(60 672.1 502.5)" fill="none" stroke-width="2.5" />
</g>
<ellipse cx="726" cy="569" rx="32.5" ry="18.7" transform="rotate(60 726 569)" fill="none" stroke-width="2.5" />
<clipPath id="c4"><ellipse cx="726" cy="569" rx="32.5" ry="18.7" transform="rotate(60 726 569)"/></clipPath>
<g clip-path="url(#c4)">
<ellipse cx="732.1" cy="565.5" rx="32.5" ry="18.7" transform="rotate(60 732.1 565.5)" fill="none" stroke-width="2.5" />
</g>
<ellipse cx="784" cy="574" rx="32.5" ry="18.7" transform="rotate(60 784 574)" fill="none" stroke-width="2.5" />
<clipPath id="c5"><ellipse cx="784" cy="574" rx="32.5" ry="18.7" transform="rotate(60 784 574)"/></clipPath>
<g clip-path="url(#c5)">
<ellipse cx="790.1" cy="570.5" rx="32.5" ry="18.7" transform="rotate(60 790.1 570.5)" fill="none" stroke-width="2.5" />
</g>
<ellipse cx="809" cy="520" rx="32.5" ry="18.7" transform="rotate(60 809 520)" fill="none" stroke-width="2.5" />
<clipPath id="c6"><ellipse cx="809" cy="520" rx="32.5" ry="18.7" transform="rotate(60 809 520)"/></clipPath>
<g clip-path="url(#c6)">
<ellipse cx="815.1" cy="516.5" rx="32.5" ry="18.7" transform="rotate(60 815.1 516.5)" fill="none" stroke-width="2.5" />
</g>
<ellipse cx="785" cy="439" rx="32.5" ry="18.7" transform="rotate(60 785 439)" fill="none" stroke-width="2.5" />
<clipPath id="c7"><ellipse cx="785" cy="439" rx="32.5" ry="18.7" transform="rotate(60 785 439)"/></clipPath>
<g clip-path="url(#c7)">
<ellipse cx="791.1" cy="435.5" rx="32.5" ry="18.7" transform="rotate(60 791.1 435.5)" fill="none" stroke-width="2.5" />
</g>
<ellipse cx="726" cy="376" rx="32.5" ry="18.7" transform="rotate(60 726 376)" fill="none" stroke-width="2.5" />
<clipPath id="c8"><ellipse cx="726" cy="376" rx="32.5" ry="18.7" transform="rotate(60 726 376)"/></clipPath>
<g clip-path="url(#c8)">
<ellipse cx="732.1" cy="372.5" rx="32.5" ry="18.7" transform="rotate(60 732.1 372.5)" fill="none" stroke-width="2.5" />
</g>
<ellipse cx="667" cy="370" rx="32.5" ry="18.7" transform="rotate(60 667 370)" fill="none" stroke-width="2.5" />
<clipPath id="c9"><ellipse cx="667" cy="370" rx="32.5" ry="18.7" transform="rotate(60 667 370)"/></clipPath>
<g clip-path="url(#c9)">
<ellipse cx="673.1" cy="366.5" rx="32.5" ry="18.7" transform="rotate(60 673.1 366.5)" fill="none" stroke-width="2.5" />
</g>
<ellipse cx="722.5" cy="475.5" rx="63.9" ry="40.2" transform="rotate(60 722.5 475.5)" fill="none" stroke-width="2.5" />
<ellipse cx="719" cy="478" rx="48.7" ry="28.5" transform="rotate(60 719 478)" fill="none" stroke-width="2.5" />
<ellipse cx="719" cy="478" rx="20.5" ry="12.5" transform="rotate(60 719 478)" fill="none" stroke-width="2.5" />
<path d="M690.9 428.4 L692.3 427.4 L693.7 426.5 L695.2 425.7 L696.8 425.1 L698.4 424.5 L700 424.1 L701.8 423.8 L703.5 423.6 L705.3 423.5 L707.1 423.6 L709 423.7 L710.9 424 L712.8 424.4 L714.8 424.9 L716.7 425.5 L718.7 426.3 L720.7 427.1 L722.7 428.1 L724.7 429.1 L726.6 430.3 L728.6 431.6 L730.5 432.9 L732.5 434.4 L734.4 435.9" fill="none" stroke-width="2.5" />
<path d="M760.2 473.3 L760.8 475.2 L761.4 477 L761.9 478.8 L762.4 480.6 L762.8 482.4 L763.2 484.2 L763.5 486 L763.8 487.7 L764 489.5 L764.2 491.2 L764.3 492.9 L764.4 494.7 L764.4 496.3 L764.4 498 L764.3 499.6 L764.2 501.2 L764 502.8 L763.8 504.4 L763.6 505.9 L763.2 507.3 L762.9 508.8 L762.5 510.2 L762 511.5 L761.5 512.9" fill="none" stroke-width="2.5" />
<path d="M819.5 1670.5 L820.5 1669.9 L829.7 1681 L832.3 1678.8 L825.6 1665.6 L826.5 1664.6 L827.3 1663.6 L837.3 1673 L839.3 1669.8 L831.2 1657.5 L831.8 1656.1 L832.4 1654.7 L842.7 1661.9 L844 1657.6 L834.7 1646.6 L835 1644.8 L835.3 1643 L845.6 1647.5 L845.9 1642.3 L835.9 1632.9 L835.8 1630.8 L835.7 1628.6 L845.4 1630 L844.6 1623.7 L834.1 1616.6 L833.6 1614.1 L833 1611.6 L841.5 1609.4 L839.3 1602.4 L828.9 1598.2 L827.9 1595.5 L826.8 1592.8 L833.3 1587.1 L829.8 1579.8 L820.1 1578.9 L818.7 1576.3 L817.1 1573.7 L821.2 1564.9 L816.7 1558.2 L808.5 1561 L806.7 1558.7 L804.8 1556.5 L806.4 1545.3 L801.4 1539.9 L795.2 1546.2 L793.4 1544.4 L791.5 1542.8 L790.6 1530.1 L785.6 1526.3 L781.9 1535.4 L780 1534.2 L778.2 1533.1 L775.2 1519.7 L770.4 1517.3 L769.2 1528.5 L767.5 1527.9 L765.8 1527.3 L760.8 1513.7 L756.6 1512.6 L757.6 1525.2 L756.1 1525 L754.6 1524.9 L748 1511.7 L744.2 1511.8 L747.4 1525.1 L746.1 1525.3 L744.8 1525.6 L736.7 1513.2 L733.5 1514.4 L738.6 1527.9 L737.5 1528.5 L736.4 1529.1 L727.2 1518 L724.6 1520.2 L731.3 1533.4 L730.4 1534.4 L729.6 1535.4 L719.6 1526 L717.6 1529.2 L725.8 1541.5 L725.1 1542.9 L724.6 1544.3 L714.2 1537.1 L713 1541.4 L722.2 1552.4 L721.9 1554.2 L721.6 1556 L711.3 1551.5 L711 1556.7 L721.1 1566.1 L721.1 1568.2 L721.2 1570.4 L711.5 1569 L712.3 1575.3 L722.8 1582.4 L723.3 1584.9 L723.9 1587.4 L715.4 1589.6 L717.6 1596.6 L728 1600.8 L729 1603.5 L730.1 1606.2 L723.6 1611.9 L727.1 1619.2 L736.8 1620.1 L738.3 1622.7 L739.8 1625.3 L735.7 1634.1 L740.2 1640.8 L748.5 1638 L750.3 1640.3 L752.1 1642.5 L750.5 1653.7 L755.6 1659.1 L761.7 1652.8 L763.6 1654.6 L765.4 1656.2 L766.3 1668.9 L771.3 1672.7 L775.1 1663.6 L776.9 1664.8 L778.7 1665.9 L781.8 1679.3 L786.5 1681.7 L787.7 1670.5 L789.4 1671.1 L791.1 1671.7 L796.1 1685.3 L800.4 1686.4 L799.3 1673.8 L800.8 1674 L802.3 1674.1 L808.9 1687.3 L812.7 1687.2 L809.5 1673.9 L810.9 1673.7 L812.2 1673.4 L820.2 1685.8 L823.4 1684.6 L818.3 1671.1 Z" fill="#fff" stroke-width="2.5" stroke="none"/>
<path d="M740.8 1667.6 L746.9 1661.3 L761.7 1652.8 L755.6 1659.1 Z" fill="#fff" stroke-width="2.5" stroke-linejoin="round"/>
<path d="M709.2 1595.9 L700.7 1598.1 L715.4 1589.6 L723.9 1587.4 Z" fill="#fff" stroke-width="2.5" stroke-linejoin="round"/>
<path d="M756.6 1681.2 L760.3 1672.1 L775.1 1663.6 L771.3 1672.7 Z" fill="#fff" stroke-width="2.5" stroke-linejoin="round"/>
<path d="M706.5 1578.9 L696.8 1577.5 L711.5 1569 L721.2 1570.4 Z" fill="#fff" stroke-width="2.5" stroke-linejoin="round"/>
<path d="M771.8 1690.2 L773 1679 L787.7 1670.5 L786.5 1681.7 Z" fill="#fff" stroke-width="2.5" stroke-linejoin="round"/>
<path d="M706.9 1564.5 L696.6 1560 L711.3 1551.5 L721.6 1556 Z" fill="#fff" stroke-width="2.5" stroke-linejoin="round"/>
<path d="M709.8 1552.8 L699.5 1545.6 L714.2 1537.1 L724.6 1544.3 Z" fill="#fff" stroke-width="2.5" stroke-linejoin="round"/>
<path d="M785.6 1694.9 L784.6 1682.3 L799.3 1673.8 L800.4 1686.4 Z" fill="#fff" stroke-width="2.5" stroke-linejoin="round"/>
<path d="M714.9 1543.9 L704.9 1534.5 L719.6 1526 L729.6 1535.4 Z" fill="#fff" stroke-width="2.5" stroke-linejoin="round"/>
<path d="M798 1695.7 L794.8 1682.4 L809.5 1673.9 L812.7 1687.2 Z" fill="#fff" stroke-width="2.5" stroke-linejoin="round"/>
<path d="M808.7 1693.1 L803.6 1679.6 L818.3 1671.1 L823.4 1684.6 Z" fill="#fff" stroke-width="2.5" stroke-linejoin="round"/>
<path d="M721.7 1537.6 L712.5 1526.5 L727.2 1518 L736.4 1529.1 Z" fill="#fff" stroke-width="2.5" stroke-linejoin="round"/>
<path d="M817.6 1687.3 L810.9 1674.1 L825.6 1665.6 L832.3 1678.8 Z" fill="#fff" stroke-width="2.5" stroke-linejoin="round"/>
<path d="M730 1534.1 L722 1521.7 L736.7 1513.2 L744.8 1525.6 Z" fill="#fff" stroke-width="2.5" stroke-linejoin="round"/>
<path d="M810.9 1674.1 L811.8 1673.1 L826.5 1664.6 L825.6 1665.6 Z" fill="#fff" stroke-width="2.5" stroke-linejoin="round"/>
<path d="M731.3 1533.8 L730 1534.1 L744.8 1525.6 L746.1 1525.3 Z" fill="#fff" stroke-width="2.5" stroke-linejoin="round"/>
<path d="M732.7 1533.6 L731.3 1533.8 L746.1 1525.3 L747.4 1525.1 Z" fill="#fff" stroke-width="2.5" stroke-linejoin="round"/>
<path d="M811.8 1673.1 L812.6 1672.1 L827.3 1663.6 L826.5 1664.6 Z" fill="#fff" stroke-width="2.5" stroke-linejoin="round"/>
<path d="M822.6 1681.5 L824.6 1678.3 L839.3 1669.8 L837.3 1673 Z" fill="#fff" stroke-width="2.5" stroke-linejoin="round"/>
<path d="M733.3 1520.2 L729.5 1520.3 L744.2 1511.8 L748 1511.7 Z" fill="#fff" stroke-width="2.5" stroke-linejoin="round"/>
<path d="M739.9 1533.4 L733.3 1520.2 L748 1511.7 L754.6 1524.9 Z" fill="#fff" stroke-width="2.5" stroke-linejoin="round"/>
<path d="M824.6 1678.3 L816.4 1666 L831.2 1657.5 L839.3 1669.8 Z" fill="#fff" stroke-width="2.5" stroke-linejoin="round"/>
<path d="M741.4 1533.5 L739.9 1533.4 L754.6 1524.9 L756.1 1525 Z" fill="#fff" stroke-width="2.5" stroke-linejoin="round"/>
<path d="M816.4 1666 L817.1 1664.6 L831.8 1656.1 L831.2 1657.5 Z" fill="#fff" stroke-width="2.5" stroke-linejoin="round"/>
<path d="M817.1 1664.6 L817.6 1663.2 L832.4 1654.7 L831.8 1656.1 Z" fill="#fff" stroke-width="2.5" stroke-linejoin="round"/>
<path d="M742.9 1533.7 L741.4 1533.5 L756.1 1525 L757.6 1525.2 Z" fill="#fff" stroke-width="2.5" stroke-linejoin="round"/>
<path d="M752.8 1536.4 L751.1 1535.8 L765.8 1527.3 L767.5 1527.9 Z" fill="#fff" stroke-width="2.5" stroke-linejoin="round"/>
<path d="M820 1655.1 L820.3 1653.3 L835 1644.8 L834.7 1646.6 Z" fill="#fff" stroke-width="2.5" stroke-linejoin="round"/>
<path d="M828 1670.4 L829.2 1666.1 L844 1657.6 L842.7 1661.9 Z" fill="#fff" stroke-width="2.5" stroke-linejoin="round"/>
<path d="M746.1 1522.2 L741.8 1521.1 L756.6 1512.6 L760.8 1513.7 Z" fill="#fff" stroke-width="2.5" stroke-linejoin="round"/>
<path d="M829.2 1666.1 L820 1655.1 L834.7 1646.6 L844 1657.6 Z" fill="#fff" stroke-width="2.5" stroke-linejoin="round"/>
<path d="M751.1 1535.8 L746.1 1522.2 L760.8 1513.7 L765.8 1527.3 Z" fill="#fff" stroke-width="2.5" stroke-linejoin="round"/>
<path d="M754.5 1537 L752.8 1536.4 L767.5 1527.9 L769.2 1528.5 Z" fill="#fff" stroke-width="2.5" stroke-linejoin="round"/>
<path d="M820.3 1653.3 L820.6 1651.5 L835.3 1643 L835 1644.8 Z" fill="#fff" stroke-width="2.5" stroke-linejoin="round"/>
<path d="M765.3 1542.7 L763.5 1541.6 L778.2 1533.1 L780 1534.2 Z" fill="#fff" stroke-width="2.5" stroke-linejoin="round"/>
<path d="M821.1 1641.4 L821.1 1639.3 L835.8 1630.8 L835.9 1632.9 Z" fill="#fff" stroke-width="2.5" stroke-linejoin="round"/>
<path d="M821.1 1639.3 L821 1637.1 L835.7 1628.6 L835.8 1630.8 Z" fill="#fff" stroke-width="2.5" stroke-linejoin="round"/>
<path d="M767.1 1543.9 L765.3 1542.7 L780 1534.2 L781.9 1535.4 Z" fill="#fff" stroke-width="2.5" stroke-linejoin="round"/>
<path d="M763.5 1541.6 L760.4 1528.2 L775.2 1519.7 L778.2 1533.1 Z" fill="#fff" stroke-width="2.5" stroke-linejoin="round"/>
<path d="M831.2 1650.8 L821.1 1641.4 L835.9 1632.9 L845.9 1642.3 Z" fill="#fff" stroke-width="2.5" stroke-linejoin="round"/>
<path d="M760.4 1528.2 L755.7 1525.8 L770.4 1517.3 L775.2 1519.7 Z" fill="#fff" stroke-width="2.5" stroke-linejoin="round"/>
<path d="M830.9 1656 L831.2 1650.8 L845.9 1642.3 L845.6 1647.5 Z" fill="#fff" stroke-width="2.5" stroke-linejoin="round"/>
<path d="M778.6 1552.9 L776.7 1551.3 L791.5 1542.8 L793.4 1544.4 Z" fill="#fff" stroke-width="2.5" stroke-linejoin="round"/>
<path d="M819.4 1625.1 L818.9 1622.6 L833.6 1614.1 L834.1 1616.6 Z" fill="#fff" stroke-width="2.5" stroke-linejoin="round"/>
<path d="M780.5 1554.7 L778.6 1552.9 L793.4 1544.4 L795.2 1546.2 Z" fill="#fff" stroke-width="2.5" stroke-linejoin="round"/>
<path d="M818.9 1622.6 L818.3 1620.1 L833 1611.6 L833.6 1614.1 Z" fill="#fff" stroke-width="2.5" stroke-linejoin="round"/>
<path d="M776.7 1551.3 L775.9 1538.6 L790.6 1530.1 L791.5 1542.8 Z" fill="#fff" stroke-width="2.5" stroke-linejoin="round"/>
<path d="M829.9 1632.2 L819.4 1625.1 L834.1 1616.6 L844.6 1623.7 Z" fill="#fff" stroke-width="2.5" stroke-linejoin="round"/>
<path d="M830.7 1638.5 L829.9 1632.2 L844.6 1623.7 L845.4 1630 Z" fill="#fff" stroke-width="2.5" stroke-linejoin="round"/>
<path d="M775.9 1538.6 L770.8 1534.8 L785.6 1526.3 L790.6 1530.1 Z" fill="#fff" stroke-width="2.5" stroke-linejoin="round"/>
<path d="M791.9 1567.2 L790.1 1565 L804.8 1556.5 L806.7 1558.7 Z" fill="#fff" stroke-width="2.5" stroke-linejoin="round"/>
<path d="M814.2 1606.7 L813.2 1604 L827.9 1595.5 L828.9 1598.2 Z" fill="#fff" stroke-width="2.5" stroke-linejoin="round"/>
<path d="M793.7 1569.5 L791.9 1567.2 L806.7 1558.7 L808.5 1561 Z" fill="#fff" stroke-width="2.5" stroke-linejoin="round"/>
<path d="M813.2 1604 L812.1 1601.3 L826.8 1592.8 L827.9 1595.5 Z" fill="#fff" stroke-width="2.5" stroke-linejoin="round"/>
<path d="M805.4 1587.4 L803.9 1584.8 L818.7 1576.3 L820.1 1578.9 Z" fill="#fff" stroke-width="2.5" stroke-linejoin="round"/>
<path d="M803.9 1584.8 L802.4 1582.2 L817.1 1573.7 L818.7 1576.3 Z" fill="#fff" stroke-width="2.5" stroke-linejoin="round"/>
<path d="M824.6 1610.9 L814.2 1606.7 L828.9 1598.2 L839.3 1602.4 Z" fill="#fff" stroke-width="2.5" stroke-linejoin="round"/>
<path d="M790.1 1565 L791.7 1553.8 L806.4 1545.3 L804.8 1556.5 Z" fill="#fff" stroke-width="2.5" stroke-linejoin="round"/>
<path d="M802.4 1582.2 L806.5 1573.4 L821.2 1564.9 L817.1 1573.7 Z" fill="#fff" stroke-width="2.5" stroke-linejoin="round"/>
<path d="M815.1 1588.3 L805.4 1587.4 L820.1 1578.9 L829.8 1579.8 Z" fill="#fff" stroke-width="2.5" stroke-linejoin="round"/>
<path d="M826.8 1617.9 L824.6 1610.9 L839.3 1602.4 L841.5 1609.4 Z" fill="#fff" stroke-width="2.5" stroke-linejoin="round"/>
<path d="M791.7 1553.8 L786.6 1548.4 L801.4 1539.9 L806.4 1545.3 Z" fill="#fff" stroke-width="2.5" stroke-linejoin="round"/>
<path d="M806.5 1573.4 L802 1566.7 L816.7 1558.2 L821.2 1564.9 Z" fill="#fff" stroke-width="2.5" stroke-linejoin="round"/>
<path d="M818.6 1595.6 L815.1 1588.3 L829.8 1579.8 L833.3 1587.1 Z" fill="#fff" stroke-width="2.5" stroke-linejoin="round"/>
<path d="M804.7 1679 L805.8 1678.4 L815 1689.5 L817.6 1687.3 L810.9 1674.1 L811.8 1673.1 L812.6 1672.1 L822.6 1681.5 L824.6 1678.3 L816.4 1666 L817.1 1664.6 L817.6 1663.2 L828 1670.4 L829.2 1666.1 L820 1655.1 L820.3 1653.3 L820.6 1651.5 L830.9 1656 L831.2 1650.8 L821.1 1641.4 L821.1 1639.3 L821 1637.1 L830.7 1638.5 L829.9 1632.2 L819.4 1625.1 L818.9 1622.6 L818.3 1620.1 L826.8 1617.9 L824.6 1610.9 L814.2 1606.7 L813.2 1604 L812.1 1601.3 L818.6 1595.6 L815.1 1588.3 L805.4 1587.4 L803.9 1584.8 L802.4 1582.2 L806.5 1573.4 L802 1566.7 L793.7 1569.5 L791.9 1567.2 L790.1 1565 L791.7 1553.8 L786.6 1548.4 L780.5 1554.7 L778.6 1552.9 L776.7 1551.3 L775.9 1538.6 L770.8 1534.8 L767.1 1543.9 L765.3 1542.7 L763.5 1541.6 L760.4 1528.2 L755.7 1525.8 L754.5 1537 L752.8 1536.4 L751.1 1535.8 L746.1 1522.2 L741.8 1521.1 L742.9 1533.7 L741.4 1533.5 L739.9 1533.4 L733.3 1520.2 L729.5 1520.3 L732.7 1533.6 L731.3 1533.8 L730 1534.1 L722 1521.7 L718.8 1522.9 L723.9 1536.4 L722.7 1537 L721.7 1537.6 L712.5 1526.5 L709.9 1528.7 L716.6 1541.9 L715.7 1542.9 L714.9 1543.9 L704.9 1534.5 L702.9 1537.7 L711 1550 L710.4 1551.4 L709.8 1552.8 L699.5 1545.6 L698.2 1549.9 L707.5 1560.9 L707.2 1562.7 L706.9 1564.5 L696.6 1560 L696.3 1565.2 L706.3 1574.6 L706.4 1576.7 L706.5 1578.9 L696.8 1577.5 L697.6 1583.8 L708.1 1590.9 L708.6 1593.4 L709.2 1595.9 L700.7 1598.1 L702.9 1605.1 L713.3 1609.3 L714.3 1612 L715.4 1614.7 L708.9 1620.4 L712.4 1627.7 L722.1 1628.6 L723.5 1631.2 L725.1 1633.8 L721 1642.6 L725.5 1649.3 L733.7 1646.5 L735.5 1648.8 L737.3 1651 L735.8 1662.2 L740.8 1667.6 L746.9 1661.3 L748.8 1663.1 L750.7 1664.7 L751.6 1677.4 L756.6 1681.2 L760.3 1672.1 L762.2 1673.3 L764 1674.4 L767 1687.8 L771.8 1690.2 L773 1679 L774.7 1679.6 L776.4 1680.2 L781.3 1693.8 L785.6 1694.9 L784.6 1682.3 L786.1 1682.5 L787.6 1682.6 L794.2 1695.8 L798 1695.7 L794.8 1682.4 L796.1 1682.2 L797.4 1681.9 L805.5 1694.3 L808.7 1693.1 L803.6 1679.6 Z" fill="#fff" stroke-width="2.5" stroke-linejoin="round"/>
<ellipse cx="763.7" cy="1608" rx="78" ry="44.1" transform="rotate(60 763.7 1608)" fill="none" stroke-width="2.5" />
<path d="M781.4 1692.5 L782.4 1691.9 L791.6 1703 L794.2 1700.8 L787.5 1687.6 L788.4 1686.6 L789.2 1685.6 L799.2 1695 L801.2 1691.8 L793.1 1679.5 L793.7 1678.1 L794.3 1676.7 L804.6 1683.9 L805.9 1679.6 L796.6 1668.6 L796.9 1666.8 L797.2 1665 L807.5 1669.5 L807.8 1664.3 L797.8 1654.9 L797.7 1652.8 L797.6 1650.6 L807.3 1652 L806.5 1645.7 L796 1638.6 L795.5 1636.1 L794.9 1633.6 L803.4 1631.4 L801.2 1624.4 L790.8 1620.2 L789.8 1617.5 L788.7 1614.8 L795.2 1609.1 L791.7 1601.8 L782 1600.9 L780.5 1598.3 L779 1595.7 L783.1 1586.9 L778.6 1580.2 L770.4 1583 L768.6 1580.7 L766.7 1578.5 L768.3 1567.3 L763.3 1561.9 L757.1 1568.2 L755.3 1566.4 L753.4 1564.8 L752.5 1552.1 L747.5 1548.3 L743.8 1557.4 L741.9 1556.2 L740.1 1555.1 L737.1 1541.7 L732.3 1539.3 L731.1 1550.5 L729.4 1549.9 L727.7 1549.3 L722.7 1535.7 L718.5 1534.6 L719.5 1547.2 L718 1547 L716.5 1546.9 L709.9 1533.7 L706.1 1533.8 L709.3 1547.1 L708 1547.3 L706.7 1547.6 L698.6 1535.2 L695.4 1536.4 L700.5 1549.9 L699.4 1550.5 L698.3 1551.1 L689.1 1540 L686.5 1542.2 L693.2 1555.4 L692.3 1556.4 L691.5 1557.4 L681.5 1548 L679.5 1551.2 L687.7 1563.5 L687 1564.9 L686.5 1566.3 L676.1 1559.1 L674.9 1563.4 L684.1 1574.4 L683.8 1576.2 L683.5 1578 L673.2 1573.5 L672.9 1578.7 L682.9 1588.1 L683 1590.2 L683.1 1592.4 L673.4 1591 L674.2 1597.3 L684.7 1604.4 L685.2 1606.9 L685.8 1609.4 L677.3 1611.6 L679.5 1618.6 L689.9 1622.8 L690.9 1625.5 L692 1628.2 L685.5 1633.9 L689 1641.2 L698.7 1642.1 L700.2 1644.7 L701.7 1647.3 L697.6 1656.1 L702.1 1662.8 L710.4 1660 L712.2 1662.3 L714 1664.5 L712.4 1675.7 L717.5 1681.1 L723.6 1674.8 L725.5 1676.6 L727.3 1678.2 L728.2 1690.9 L733.2 1694.7 L736.9 1685.6 L738.8 1686.8 L740.6 1687.9 L743.6 1701.3 L748.4 1703.7 L749.6 1692.5 L751.3 1693.1 L753 1693.7 L758 1707.3 L762.3 1708.4 L761.2 1695.8 L762.7 1696 L764.2 1696.1 L770.8 1709.3 L774.6 1709.2 L771.4 1695.9 L772.8 1695.7 L774 1695.4 L782.1 1707.8 L785.3 1706.6 L780.2 1693.1 Z" fill="#fff" stroke-width="2.5" stroke="none"/>
<path d="M703.6 1689.1 L709.7 1682.8 L723.6 1674.8 L717.5 1681.1 Z" fill="#fff" stroke-width="2.5" stroke-linejoin="round"/>
<path d="M671.9 1617.4 L663.5 1619.6 L677.3 1611.6 L685.8 1609.4 Z" fill="#fff" stroke-width="2.5" stroke-linejoin="round"/>
<path d="M719.4 1702.7 L723.1 1693.6 L736.9 1685.6 L733.2 1694.7 Z" fill="#fff" stroke-width="2.5" stroke-linejoin="round"/>
<path d="M669.3 1600.4 L659.5 1599 L673.4 1591 L683.1 1592.4 Z" fill="#fff" stroke-width="2.5" stroke-linejoin="round"/>
<path d="M734.5 1711.7 L735.8 1700.5 L749.6 1692.5 L748.4 1703.7 Z" fill="#fff" stroke-width="2.5" stroke-linejoin="round"/>
<path d="M669.7 1586 L659.3 1581.5 L673.2 1573.5 L683.5 1578 Z" fill="#fff" stroke-width="2.5" stroke-linejoin="round"/>
<path d="M672.6 1574.3 L662.2 1567.1 L676.1 1559.1 L686.5 1566.3 Z" fill="#fff" stroke-width="2.5" stroke-linejoin="round"/>
<path d="M748.4 1716.4 L747.3 1703.8 L761.2 1695.8 L762.3 1708.4 Z" fill="#fff" stroke-width="2.5" stroke-linejoin="round"/>
<path d="M677.6 1565.4 L667.7 1556 L681.5 1548 L691.5 1557.4 Z" fill="#fff" stroke-width="2.5" stroke-linejoin="round"/>
<path d="M760.8 1717.2 L757.6 1703.9 L771.4 1695.9 L774.6 1709.2 Z" fill="#fff" stroke-width="2.5" stroke-linejoin="round"/>
<path d="M771.5 1714.6 L766.4 1701.1 L780.2 1693.1 L785.3 1706.6 Z" fill="#fff" stroke-width="2.5" stroke-linejoin="round"/>
<path d="M684.4 1559.1 L675.3 1548 L689.1 1540 L698.3 1551.1 Z" fill="#fff" stroke-width="2.5" stroke-linejoin="round"/>
<path d="M780.4 1708.8 L773.7 1695.6 L787.5 1687.6 L794.2 1700.8 Z" fill="#fff" stroke-width="2.5" stroke-linejoin="round"/>
<path d="M692.8 1555.6 L684.8 1543.2 L698.6 1535.2 L706.7 1547.6 Z" fill="#fff" stroke-width="2.5" stroke-linejoin="round"/>
<path d="M773.7 1695.6 L774.5 1694.6 L788.4 1686.6 L787.5 1687.6 Z" fill="#fff" stroke-width="2.5" stroke-linejoin="round"/>
<path d="M694.1 1555.3 L692.8 1555.6 L706.7 1547.6 L708 1547.3 Z" fill="#fff" stroke-width="2.5" stroke-linejoin="round"/>
<path d="M695.4 1555.1 L694.1 1555.3 L708 1547.3 L709.3 1547.1 Z" fill="#fff" stroke-width="2.5" stroke-linejoin="round"/>
<path d="M774.5 1694.6 L775.4 1693.6 L789.2 1685.6 L788.4 1686.6 Z" fill="#fff" stroke-width="2.5" stroke-linejoin="round"/>
<path d="M785.3 1703 L787.3 1699.8 L801.2 1691.8 L799.2 1695 Z" fill="#fff" stroke-width="2.5" stroke-linejoin="round"/>
<path d="M696 1541.7 L692.2 1541.8 L706.1 1533.8 L709.9 1533.7 Z" fill="#fff" stroke-width="2.5" stroke-linejoin="round"/>
<path d="M702.7 1554.9 L696 1541.7 L709.9 1533.7 L716.5 1546.9 Z" fill="#fff" stroke-width="2.5" stroke-linejoin="round"/>
<path d="M787.3 1699.8 L779.2 1687.5 L793.1 1679.5 L801.2 1691.8 Z" fill="#fff" stroke-width="2.5" stroke-linejoin="round"/>
<path d="M704.1 1555 L702.7 1554.9 L716.5 1546.9 L718 1547 Z" fill="#fff" stroke-width="2.5" stroke-linejoin="round"/>
<path d="M779.2 1687.5 L779.8 1686.1 L793.7 1678.1 L793.1 1679.5 Z" fill="#fff" stroke-width="2.5" stroke-linejoin="round"/>
<path d="M779.8 1686.1 L780.4 1684.7 L794.3 1676.7 L793.7 1678.1 Z" fill="#fff" stroke-width="2.5" stroke-linejoin="round"/>
<path d="M705.7 1555.2 L704.1 1555 L718 1547 L719.5 1547.2 Z" fill="#fff" stroke-width="2.5" stroke-linejoin="round"/>
<path d="M715.5 1557.9 L713.9 1557.3 L727.7 1549.3 L729.4 1549.9 Z" fill="#fff" stroke-width="2.5" stroke-linejoin="round"/>
<path d="M782.7 1676.6 L783.1 1674.8 L796.9 1666.8 L796.6 1668.6 Z" fill="#fff" stroke-width="2.5" stroke-linejoin="round"/>
<path d="M790.8 1691.9 L792 1687.6 L805.9 1679.6 L804.6 1683.9 Z" fill="#fff" stroke-width="2.5" stroke-linejoin="round"/>
<path d="M708.9 1543.7 L704.6 1542.6 L718.5 1534.6 L722.7 1535.7 Z" fill="#fff" stroke-width="2.5" stroke-linejoin="round"/>
<path d="M792 1687.6 L782.7 1676.6 L796.6 1668.6 L805.9 1679.6 Z" fill="#fff" stroke-width="2.5" stroke-linejoin="round"/>
<path d="M713.9 1557.3 L708.9 1543.7 L722.7 1535.7 L727.7 1549.3 Z" fill="#fff" stroke-width="2.5" stroke-linejoin="round"/>
<path d="M783.1 1674.8 L783.3 1673 L797.2 1665 L796.9 1666.8 Z" fill="#fff" stroke-width="2.5" stroke-linejoin="round"/>
<path d="M717.2 1558.5 L715.5 1557.9 L729.4 1549.9 L731.1 1550.5 Z" fill="#fff" stroke-width="2.5" stroke-linejoin="round"/>
<path d="M728.1 1564.2 L726.3 1563.1 L740.1 1555.1 L741.9 1556.2 Z" fill="#fff" stroke-width="2.5" stroke-linejoin="round"/>
<path d="M783.9 1662.9 L783.9 1660.8 L797.7 1652.8 L797.8 1654.9 Z" fill="#fff" stroke-width="2.5" stroke-linejoin="round"/>
<path d="M729.9 1565.4 L728.1 1564.2 L741.9 1556.2 L743.8 1557.4 Z" fill="#fff" stroke-width="2.5" stroke-linejoin="round"/>
<path d="M783.9 1660.8 L783.7 1658.6 L797.6 1650.6 L797.7 1652.8 Z" fill="#fff" stroke-width="2.5" stroke-linejoin="round"/>
<path d="M794 1672.3 L783.9 1662.9 L797.8 1654.9 L807.8 1664.3 Z" fill="#fff" stroke-width="2.5" stroke-linejoin="round"/>
<path d="M726.3 1563.1 L723.2 1549.7 L737.1 1541.7 L740.1 1555.1 Z" fill="#fff" stroke-width="2.5" stroke-linejoin="round"/>
<path d="M723.2 1549.7 L718.5 1547.3 L732.3 1539.3 L737.1 1541.7 Z" fill="#fff" stroke-width="2.5" stroke-linejoin="round"/>
<path d="M793.7 1677.5 L794 1672.3 L807.8 1664.3 L807.5 1669.5 Z" fill="#fff" stroke-width="2.5" stroke-linejoin="round"/>
<path d="M741.4 1574.4 L739.5 1572.8 L753.4 1564.8 L755.3 1566.4 Z" fill="#fff" stroke-width="2.5" stroke-linejoin="round"/>
<path d="M782.2 1646.6 L781.6 1644.1 L795.5 1636.1 L796 1638.6 Z" fill="#fff" stroke-width="2.5" stroke-linejoin="round"/>
<path d="M743.3 1576.2 L741.4 1574.4 L755.3 1566.4 L757.1 1568.2 Z" fill="#fff" stroke-width="2.5" stroke-linejoin="round"/>
<path d="M781.6 1644.1 L781.1 1641.6 L794.9 1633.6 L795.5 1636.1 Z" fill="#fff" stroke-width="2.5" stroke-linejoin="round"/>
<path d="M739.5 1572.8 L738.6 1560.1 L752.5 1552.1 L753.4 1564.8 Z" fill="#fff" stroke-width="2.5" stroke-linejoin="round"/>
<path d="M792.6 1653.7 L782.2 1646.6 L796 1638.6 L806.5 1645.7 Z" fill="#fff" stroke-width="2.5" stroke-linejoin="round"/>
<path d="M738.6 1560.1 L733.6 1556.3 L747.5 1548.3 L752.5 1552.1 Z" fill="#fff" stroke-width="2.5" stroke-linejoin="round"/>
<path d="M793.5 1660 L792.6 1653.7 L806.5 1645.7 L807.3 1652 Z" fill="#fff" stroke-width="2.5" stroke-linejoin="round"/>
<path d="M754.7 1588.7 L752.9 1586.5 L766.7 1578.5 L768.6 1580.7 Z" fill="#fff" stroke-width="2.5" stroke-linejoin="round"/>
<path d="M777 1628.2 L775.9 1625.5 L789.8 1617.5 L790.8 1620.2 Z" fill="#fff" stroke-width="2.5" stroke-linejoin="round"/>
<path d="M756.5 1591 L754.7 1588.7 L768.6 1580.7 L770.4 1583 Z" fill="#fff" stroke-width="2.5" stroke-linejoin="round"/>
<path d="M775.9 1625.5 L774.8 1622.8 L788.7 1614.8 L789.8 1617.5 Z" fill="#fff" stroke-width="2.5" stroke-linejoin="round"/>
<path d="M768.2 1608.9 L766.7 1606.3 L780.5 1598.3 L782 1600.9 Z" fill="#fff" stroke-width="2.5" stroke-linejoin="round"/>
<path d="M766.7 1606.3 L765.2 1603.7 L779 1595.7 L780.5 1598.3 Z" fill="#fff" stroke-width="2.5" stroke-linejoin="round"/>
<path d="M787.4 1632.4 L777 1628.2 L790.8 1620.2 L801.2 1624.4 Z" fill="#fff" stroke-width="2.5" stroke-linejoin="round"/>
<path d="M752.9 1586.5 L754.4 1575.3 L768.3 1567.3 L766.7 1578.5 Z" fill="#fff" stroke-width="2.5" stroke-linejoin="round"/>
<path d="M765.2 1603.7 L769.2 1594.9 L783.1 1586.9 L779 1595.7 Z" fill="#fff" stroke-width="2.5" stroke-linejoin="round"/>
<path d="M777.9 1609.8 L768.2 1608.9 L782 1600.9 L791.7 1601.8 Z" fill="#fff" stroke-width="2.5" stroke-linejoin="round"/>
<path d="M789.5 1639.4 L787.4 1632.4 L801.2 1624.4 L803.4 1631.4 Z" fill="#fff" stroke-width="2.5" stroke-linejoin="round"/>
<path d="M754.4 1575.3 L749.4 1569.9 L763.3 1561.9 L768.3 1567.3 Z" fill="#fff" stroke-width="2.5" stroke-linejoin="round"/>
<path d="M769.2 1594.9 L764.7 1588.2 L778.6 1580.2 L783.1 1586.9 Z" fill="#fff" stroke-width="2.5" stroke-linejoin="round"/>
<path d="M781.4 1617.1 L777.9 1609.8 L791.7 1601.8 L795.2 1609.1 Z" fill="#fff" stroke-width="2.5" stroke-linejoin="round"/>
<path d="M767.5 1700.5 L768.6 1699.9 L777.7 1711 L780.4 1708.8 L773.7 1695.6 L774.5 1694.6 L775.4 1693.6 L785.3 1703 L787.3 1699.8 L779.2 1687.5 L779.8 1686.1 L780.4 1684.7 L790.8 1691.9 L792 1687.6 L782.7 1676.6 L783.1 1674.8 L783.3 1673 L793.7 1677.5 L794 1672.3 L783.9 1662.9 L783.9 1660.8 L783.7 1658.6 L793.5 1660 L792.6 1653.7 L782.2 1646.6 L781.6 1644.1 L781.1 1641.6 L789.5 1639.4 L787.4 1632.4 L777 1628.2 L775.9 1625.5 L774.8 1622.8 L781.4 1617.1 L777.9 1609.8 L768.2 1608.9 L766.7 1606.3 L765.2 1603.7 L769.2 1594.9 L764.7 1588.2 L756.5 1591 L754.7 1588.7 L752.9 1586.5 L754.4 1575.3 L749.4 1569.9 L743.3 1576.2 L741.4 1574.4 L739.5 1572.8 L738.6 1560.1 L733.6 1556.3 L729.9 1565.4 L728.1 1564.2 L726.3 1563.1 L723.2 1549.7 L718.5 1547.3 L717.2 1558.5 L715.5 1557.9 L713.9 1557.3 L708.9 1543.7 L704.6 1542.6 L705.7 1555.2 L704.1 1555 L702.7 1554.9 L696 1541.7 L692.2 1541.8 L695.4 1555.1 L694.1 1555.3 L692.8 1555.6 L684.8 1543.2 L681.5 1544.4 L686.6 1557.9 L685.5 1558.5 L684.4 1559.1 L675.3 1548 L672.6 1550.2 L679.3 1563.4 L678.5 1564.4 L677.6 1565.4 L667.7 1556 L665.7 1559.2 L673.8 1571.5 L673.2 1572.9 L672.6 1574.3 L662.2 1567.1 L661 1571.4 L670.3 1582.4 L669.9 1584.2 L669.7 1586 L659.3 1581.5 L659 1586.7 L669.1 1596.1 L669.1 1598.2 L669.3 1600.4 L659.5 1599 L660.4 1605.3 L670.8 1612.4 L671.4 1614.9 L671.9 1617.4 L663.5 1619.6 L665.6 1626.6 L676 1630.8 L677.1 1633.5 L678.2 1636.2 L671.6 1641.9 L675.1 1649.2 L684.8 1650.1 L686.3 1652.7 L687.8 1655.3 L683.8 1664.1 L688.3 1670.8 L696.5 1668 L698.3 1670.3 L700.1 1672.5 L698.6 1683.7 L703.6 1689.1 L709.7 1682.8 L711.6 1684.6 L713.5 1686.2 L714.4 1698.9 L719.4 1702.7 L723.1 1693.6 L724.9 1694.8 L726.7 1695.9 L729.8 1709.3 L734.5 1711.7 L735.8 1700.5 L737.5 1701.1 L739.1 1701.7 L744.1 1715.3 L748.4 1716.4 L747.3 1703.8 L748.9 1704 L750.3 1704.1 L757 1717.3 L760.8 1717.2 L757.6 1703.9 L758.9 1703.7 L760.2 1703.4 L768.2 1715.8 L771.5 1714.6 L766.4 1701.1 Z" fill="#fff" stroke-width="2.5" stroke-linejoin="round"/>
<ellipse cx="726.5" cy="1629.5" rx="66.4" ry="37.6" transform="rotate(60 726.5 1629.5)" fill="#fff" stroke-width="2.5" />
<clipPath id="c10"><ellipse cx="726.5" cy="1629.5" rx="66.4" ry="37.6" transform="rotate(60 726.5 1629.5)"/></clipPath>
<g clip-path="url(#c10)">
<ellipse cx="766.3" cy="1606.5" rx="66.4" ry="37.6" transform="rotate(60 766.3 1606.5)" fill="none" stroke-width="2.5" />
</g>
<path d="M396.6 473.6 L451 443.6" fill="none" stroke-width="2.5" />
<path d="M451 443.6 C451.8 443 454.2 440.4 456 440 C457.8 439.6 461 440.8 462 441" fill="none" stroke-width="2.5" />
<path d="M456 440 C457 440.2 459 437.7 462 441 C465 444.3 469 451.2 474 460 C479 468.8 485.7 483.3 492 494 C498.3 504.7 505.3 511.3 512 524 C518.7 536.7 525.7 554.7 532 570 C538.3 585.3 544.7 601 550 616 C555.3 631 560 646 564 660 C568 674 571.3 686.7 574 700 C576.7 713.3 578.3 724.2 580 740 C581.7 755.8 582.7 775 584 795 C585.3 815 587 835.8 588 860 C589 884.2 589.6 915 590 940 C590.4 965 590.4 986.7 590.3 1010 C590.2 1033.3 589.9 1060 589.5 1080 C589.1 1100 589.8 1105 588 1130 C586.2 1155 582 1200 579 1230 C576 1260 573.2 1283.3 570 1310 C566.8 1336.7 564 1367.3 560 1390 C556 1412.7 550.3 1431.7 546 1446 C541.7 1460.3 536 1471 534 1476" fill="none" stroke-width="2.5" />
<path d="M451 443.6 C452.5 446 455.2 449.3 460 458 C464.8 466.7 473.3 484.3 480 496 C486.7 507.7 493.3 515.3 500 528 C506.7 540.7 513.3 556.7 520 572 C526.7 587.3 534.3 605.3 540 620 C545.7 634.7 550 646.7 554 660 C558 673.3 561.3 686.7 564 700 C566.7 713.3 568.2 724.2 570 740 C571.8 755.8 573.7 775 575 795 C576.3 815 577.2 835.8 578 860 C578.8 884.2 579.2 915 579.5 940 C579.8 965 579.7 986.7 579.7 1010 C579.7 1033.3 579.5 1060 579.5 1080 C579.5 1100 581.6 1101.7 580 1130 C578.4 1158.3 573.3 1213.3 570 1250 C566.7 1286.7 563.7 1321.7 560 1350 C556.3 1378.3 552 1401.7 548 1420 C544 1438.3 540 1449.7 536 1460 C532 1470.3 526 1478.3 524 1482" fill="none" stroke-width="2.5" />
<path d="M402 471 C405 476.5 413.7 492.5 420 504 C426.3 515.5 433.3 527.7 440 540 C446.7 552.3 454.3 568 460 578 C465.7 588 469.7 591 474 600 C478.3 609 481.7 618.7 486 632 C490.3 645.3 496 665.3 500 680 C504 694.7 507 706.7 510 720 C513 733.3 515.8 746.7 518 760 C520.2 773.3 521.5 776.7 523 800 C524.5 823.3 526 865 527 900 C528 935 528.2 971.7 528.7 1010 C529.2 1048.3 530.8 1096.7 530 1130 C529.2 1163.3 526.3 1183.3 524 1210 C521.7 1236.7 519 1263.3 516 1290 C513 1316.7 508.7 1347.3 506 1370 C503.3 1392.7 501 1416.7 500 1426" fill="none" stroke-width="2.5" />
<path d="M409 468 C412.5 473.3 423.2 489.3 430 500 C436.8 510.7 443.3 520.7 450 532 C456.7 543.3 463.7 555 470 568 C476.3 581 482.7 596.3 488 610 C493.3 623.7 497.7 635 502 650 C506.3 665 510.3 683.3 514 700 C517.7 716.7 521.3 733.3 524 750 C526.7 766.7 528.2 775 530 800 C531.8 825 533.8 865 535 900 C536.2 935 536.5 971.7 537 1010 C537.5 1048.3 538.8 1096.7 538 1130 C537.2 1163.3 534.5 1180 532 1210 C529.5 1240 526.3 1276.7 523 1310 C519.7 1343.3 515.8 1385 512 1410 C508.2 1435 504.3 1444.5 500 1460 C495.7 1475.5 488.3 1495.8 486 1503" fill="none" stroke-width="2.5" />
<path d="M417 463 C420.8 469.2 432.8 488.5 440 500 C447.2 511.5 453.3 520.7 460 532 C466.7 543.3 474 555.7 480 568 C486 580.3 491 593 496 606 C501 619 505.7 632 510 646 C514.3 660 518.5 674.3 522 690 C525.5 705.7 528.3 721.7 531 740 C533.7 758.3 536 773.3 538 800 C540 826.7 541.7 865 543 900 C544.3 935 545 971.7 545.7 1010 C546.4 1048.3 548 1096.7 547 1130 C546 1163.3 542.8 1180 540 1210 C537.2 1240 533.7 1276.7 530 1310 C526.3 1343.3 522.3 1385 518 1410 C513.7 1435 508.8 1444.5 504 1460 C499.2 1475.5 491.5 1495.8 489 1503" fill="none" stroke-width="2.5" />
<path d="M396.6 473.6 C397.2 475 399.1 479.4 400 482 C400.9 484.6 402.3 486.7 402 489 C401.7 491.3 398.5 492.8 398 496 C397.5 499.2 397.3 499.3 399 508 C400.7 516.7 405.8 537.3 408 548 C410.2 558.7 411.2 560 412 572 C412.8 584 411.7 607.7 413 620 C414.3 632.3 417.7 637.7 420 646 C422.3 654.3 425.3 657.7 427 670 C428.7 682.3 429 699.2 430 720 C431 740.8 431.8 765 433 795 C434.2 825 435.8 864.2 437 900 C438.2 935.8 439.5 980 440 1010 C440.5 1040 440.3 1060 440 1080 C439.7 1100 439 1111.7 438 1130 C437 1148.3 435.7 1166.7 434 1190 C432.3 1213.3 430.2 1246.7 428 1270 C425.8 1293.3 422.7 1317.5 421 1330 C419.3 1342.5 418.5 1342.5 418 1345" fill="none" stroke-width="2.5" />
<path d="M534 1477 L484 1505" fill="none" stroke-width="2.5" />
<path d="M469 1470 C467.8 1470.7 463.7 1472.3 462 1474 C460.3 1475.7 459.3 1477.3 459 1480 C458.7 1482.7 458.2 1486 460 1490 C461.8 1494 466.7 1501.2 470 1504 C473.3 1506.8 477.7 1506.8 480 1507 C482.3 1507.2 483.3 1505.3 484 1505" fill="none" stroke-width="2.5" />
<path d="M468 1473 C467.7 1475.5 465.3 1484.3 466 1488 C466.7 1491.7 470.2 1493.8 472 1495 C473.8 1496.2 476.2 1495 477 1495" fill="none" stroke-width="2.5" />
<path d="M477 1495 L494 1442" fill="none" stroke-width="2.5" />
<path d="M440 549.6 C437.5 545.5 429.5 532.8 425 525 C420.5 517.2 415 506.7 413 503" fill="none" stroke-width="2.5" />
<path d="M413 503 C412.5 502.3 411.2 499 410 499 C408.8 499 406.7 501.2 406 503 C405.3 504.8 406 508.8 406 510" fill="none" stroke-width="2.5" />
<path d="M406 510 L415 551 L440 549.6" fill="none" stroke-width="2.5" />
<path d="M421 520 L428 545" fill="none" stroke-width="2.5" />
<path d="M417 558 L450 558" fill="none" stroke-width="2.5" />
<path d="M417 558 L420 577" fill="none" stroke-width="2.5" />
<path d="M420 577 L486 633" fill="none" stroke-width="2.5" />
<path d="M419 586 L482 640" fill="none" stroke-width="2.5" />
<path d="M419 586 L426 648.6 L484 648" fill="none" stroke-width="2.5" />
<path d="M434 600 L439 640 L480 640" fill="none" stroke-width="2.5" />
<path d="M439 640 L428 648" fill="none" stroke-width="2.5" />
<path d="M423 576 L437 568" fill="none" stroke-width="2.5" />
<path d="M440 562 L446 574" fill="none" stroke-width="2.5" />
<path d="M444 578 L457 575 L465 592 L452 596 L444 578" fill="none" stroke-width="2.5" />
<path d="M460 596 L464 615" fill="none" stroke-width="2.5" />
<path d="M450 558 C451.7 560 458.3 566.3 460 570 C461.7 573.7 458.7 576.3 460 580 C461.3 583.7 465.7 588.7 468 592 C470.3 595.3 473 598.7 474 600" fill="none" stroke-width="2.5" />
<path d="M489 658 L429 658" fill="none" stroke-width="2.5" />
<path d="M429 658 C429.3 659.7 429.5 664.3 431 668 C432.5 671.7 436.8 678 438 680" fill="none" stroke-width="2.5" />
<path d="M438 680 L506 738" fill="none" stroke-width="2.5" />
<path d="M489 658 C490.3 663.3 494.8 680.3 497 690 C499.2 699.7 500.5 708 502 716 C503.5 724 505.3 734.3 506 738" fill="none" stroke-width="2.5" />
<path d="M448 663 C448.3 664 448.8 667 450 669 C451.2 671 454.2 674 455 675" fill="none" stroke-width="2.5" />
<path d="M455 675 L501 716" fill="none" stroke-width="2.5" />
<path d="M437 686 L508 750 L508 765 L441 763 L437 686" fill="none" stroke-width="2.5" />
<path d="M451 700 L455 754 L507 756" fill="none" stroke-width="2.5" />
<path d="M455 754 L444 761" fill="none" stroke-width="2.5" />
<path d="M442.7 773.8 L511.7 776 L513.8 851.3 L442.7 790.8 L442.7 773.8" fill="none" stroke-width="2.5" />
<path d="M455.4 776 L456.5 783.4 L512.8 831" fill="none" stroke-width="2.5" />
<path d="M443.7 799.3 L516 862 L515 885.3 L447 880 L443.7 799.3" fill="none" stroke-width="2.5" />
<path d="M458.6 813 L460.7 870.5 L515 876.8" fill="none" stroke-width="2.5" />
<path d="M460.7 870.5 L450 878" fill="none" stroke-width="2.5" />
<path d="M448 888.5 L517 895 L518 956.5 L448 904.4 L448 888.5" fill="none" stroke-width="2.5" />
<path d="M460 890 L461 897 L517.5 940" fill="none" stroke-width="2.5" />
<path d="M449 916 L519 981 L519 1016 L449 1011.7 L449 916" fill="none" stroke-width="2.5" />
<path d="M462 930 L463 1002 L519 1007" fill="none" stroke-width="2.5" />
<path d="M463 1002 L452 1010" fill="none" stroke-width="2.5" />
<path d="M449 1019 L520 1025.5 L519 1101 L450 1038 L449 1019" fill="none" stroke-width="2.5" />
<path d="M461 1021 L462 1028 L519 1083" fill="none" stroke-width="2.5" />
<path d="M448 1049 L520 1130.6 L519 1153 L445.8 1148.7 L448 1049" fill="none" stroke-width="2.5" />
<path d="M460 1064 L459 1140 L519 1144" fill="none" stroke-width="2.5" />
<path d="M459 1140 L449 1147" fill="none" stroke-width="2.5" />
<path d="M446 1157 L517 1163 L510 1230 L446 1171 L446 1157" fill="none" stroke-width="2.5" />
<path d="M458 1163 L509 1214" fill="none" stroke-width="2.5" />
<path d="M445 1181 L509 1253 L505 1283 L437 1276 L445 1181" fill="none" stroke-width="2.5" />
<path d="M456 1198 L451 1267 L506 1274" fill="none" stroke-width="2.5" />
<path d="M451 1267 L439 1275" fill="none" stroke-width="2.5" />
<path d="M436 1285 L504 1293 L497 1352 L434 1298 L436 1285" fill="none" stroke-width="2.5" />
<path d="M447 1289 L496 1336" fill="none" stroke-width="2.5" />
<path d="M433 1307 C432 1316.2 426.8 1351.5 427 1362 C427.2 1372.5 431.5 1366.3 434 1370 C436.5 1373.7 440.2 1380 442 1384 C443.8 1388 444.5 1392.3 445 1394" fill="none" stroke-width="2.5" />
<path d="M433 1307 L496 1376 L492 1397 L445 1394" fill="none" stroke-width="2.5" />
<path d="M444 1325 C443.3 1330.2 439 1348.8 440 1356 C441 1363.2 447 1363.2 450 1368 C453 1372.8 456.7 1382.2 458 1385" fill="none" stroke-width="2.5" />
<path d="M458 1385 L489 1389" fill="none" stroke-width="2.5" />
<path d="M449 1404 L490 1408" fill="none" stroke-width="2.5" />
<path d="M449 1404 C449.3 1405.7 451.5 1410.5 451 1414 C450.5 1417.5 446.8 1423.2 446 1425" fill="none" stroke-width="2.5" />
<path d="M446 1425 L475 1462 L488 1409" fill="none" stroke-width="2.5" />
<path d="M464 1408 L460 1416 L480 1441" fill="none" stroke-width="2.5" />
<path d="M491 1418 L500 1428" fill="none" stroke-width="2.5" />
<path d="M486 1432 L494 1442" fill="none" stroke-width="2.5" />
<path d="M418 1345 C414.2 1346.8 399.8 1351.8 395 1356 C390.2 1360.2 390.3 1365.2 389 1370 C387.7 1374.8 386.8 1379.2 387 1385 C387.2 1390.8 388.2 1399.2 390 1405 C391.8 1410.8 394.3 1415.8 398 1420 C401.7 1424.2 407.2 1427.7 412 1430 C416.8 1432.3 422.3 1433.7 427 1434 C431.7 1434.3 437.8 1432.3 440 1432" fill="none" stroke-width="2.5" />
<path d="M440 1432 L469 1470" fill="none" stroke-width="2.5" />
<path d="M418 1345 L418 1356 L408 1353" fill="none" stroke-width="2.5" />
<ellipse cx="419" cy="1394" rx="27.5" ry="15.1" transform="rotate(60 419 1394)" fill="none" stroke-width="2.5" />
<path d="M1036 720 C1034 720.7 1028.7 721.3 1024 724 C1019.3 726.7 1013 730.7 1008 736 C1003 741.3 997.8 748 994 756 C990.2 764 987.3 773.3 985 784 C982.7 794.7 982.5 797.3 980 820 C977.5 842.7 972.2 896.7 970 920 C967.8 943.3 968.5 944.2 967 960 C965.5 975.8 963.2 988.3 961 1015 C958.8 1041.7 956.5 1082.5 954 1120 C951.5 1157.5 947.8 1204.2 946 1240 C944.2 1275.8 944 1307 943 1335 C942 1363 940.7 1383.8 940 1408 C939.3 1432.2 939.2 1459.7 939 1480 C938.8 1500.3 939 1514 939 1530 C939 1546 938.3 1563.7 939 1576 C939.7 1588.3 940.8 1593.3 943 1604 C945.2 1614.7 948.2 1628.3 952 1640 C955.8 1651.7 959.8 1662 966 1674 C972.2 1686 985.2 1705.7 989 1712" fill="none" stroke-width="2.5" />
<path d="M989 1712 C989.5 1713.8 990.5 1720.3 992 1723 C993.5 1725.7 997 1727.2 998 1728" fill="none" stroke-width="2.5" />
<path d="M1036 720 C1038.8 718 1046.5 712.2 1053 708 C1059.5 703.8 1068.8 697.5 1074.7 694.5 C1080.6 691.5 1084.1 690.6 1088.5 689.7 C1092.9 688.8 1097.5 688.2 1101.3 689.2 C1105 690.2 1108 693.1 1111 695.6 C1114 698.1 1117.9 701.9 1119.5 704 C1121.1 706.1 1120.9 706.9 1120.5 708.4 C1120.1 709.9 1117.8 712 1117.3 712.7" fill="none" stroke-width="2.5" />
<path d="M1039.5 719 L1100.3 690.8" fill="none" stroke-width="2.5" />
<path d="M1117.3 712.7 L1071.5 739.9" fill="none" stroke-width="2.5" />
<path d="M1047 719 C1048.4 718.8 1052.7 717.1 1055.5 718 C1058.3 718.9 1061.7 722.1 1064 724.4 C1066.3 726.7 1068 729.4 1069.3 731.9 C1070.5 734.4 1071.1 738.1 1071.5 739.3" fill="none" stroke-width="2.5" />
<path d="M1048 720 C1045.3 743.3 1036.7 820 1032 860 C1027.3 900 1023 934.2 1020 960 C1017 985.8 1016.3 988.3 1014 1015 C1011.7 1041.7 1008.5 1082.5 1006 1120 C1003.5 1157.5 1000.8 1204.2 999 1240 C997.2 1275.8 996.2 1295 995 1335 C993.8 1375 993 1435.8 992 1480 C991 1524.2 989.5 1561.3 989 1600 C988.5 1638.7 989 1693.3 989 1712" fill="none" stroke-width="2.5" />
<path d="M1071 739 L1057 733" fill="none" stroke-width="2.5" />
<path d="M1057 733 C1056.5 740 1054.8 762.2 1054 775 C1053.2 787.8 1052 802.5 1052 810 C1052 817.5 1052.7 817 1054 820 C1055.3 823 1057.8 825.7 1060 828 C1062.2 830.3 1064.7 832.7 1067 834 C1069.3 835.3 1072 836.7 1074 836 C1076 835.3 1077.8 832.7 1079 830 C1080.2 827.3 1080.3 823.8 1081 820 C1081.7 816.2 1081.8 809.8 1083 807 C1084.2 804.2 1086.3 803.2 1088 803 C1089.7 802.8 1092 803.8 1093 806 C1094 808.2 1094.3 810.7 1094 816 C1093.7 821.3 1092.7 832 1091 838 C1089.3 844 1087.2 848.5 1084 852 C1080.8 855.5 1077 857.7 1072 859 C1067 860.3 1059 858.5 1054 860 C1049 861.5 1045 863 1042 868 C1039 873 1037.5 878 1036 890 C1034.5 902 1033.8 928.3 1033 940 C1032.2 951.7 1032.3 947.5 1031 960 C1029.7 972.5 1027.3 988.3 1025 1015 C1022.7 1041.7 1019.5 1082.5 1017 1120 C1014.5 1157.5 1012 1204.2 1010 1240 C1008 1275.8 1006 1313 1005 1335 C1004 1357 1004 1361.8 1004 1372 C1004 1382.2 1003.7 1388.8 1005 1396 C1006.3 1403.2 1007.7 1407 1012 1415 C1016.3 1423 1025.8 1436.3 1031 1444 C1036.2 1451.7 1039.8 1455 1043 1461 C1046.2 1467 1049 1474.5 1050 1480 C1051 1485.5 1050.5 1490.3 1049 1494 C1047.5 1497.7 1045.5 1501.3 1041 1502 C1036.5 1502.7 1027.2 1498.7 1022 1498 C1016.8 1497.3 1013.5 1496.7 1010 1498 C1006.5 1499.3 1002.7 1501 1001 1506 C999.3 1511 1000.3 1505.7 1000 1528 C999.7 1550.3 999.2 1607.2 999 1640 C998.8 1672.8 999 1710.8 999 1725" fill="none" stroke-width="2.5" />
<path d="M1088 852 C1087.3 856.7 1085.7 865.3 1084 880 C1082.3 894.7 1079.3 926.7 1078 940 C1076.7 953.3 1077.2 947.5 1076 960 C1074.8 972.5 1073 988.3 1071 1015 C1069 1041.7 1066.2 1082.5 1064 1120 C1061.8 1157.5 1059.8 1204.2 1058 1240 C1056.2 1275.8 1053.8 1317 1053 1335 C1052.2 1353 1052.8 1341.8 1053 1348 C1053.2 1354.2 1052.8 1365.2 1054 1372 C1055.2 1378.8 1057.2 1384.2 1060 1389 C1062.8 1393.8 1067 1396.7 1071 1401 C1075 1405.3 1079.8 1409 1084 1415 C1088.2 1421 1093.2 1430.2 1096 1437 C1098.8 1443.8 1100.8 1450.5 1101 1456 C1101.2 1461.5 1097.7 1467.7 1097 1470" fill="none" stroke-width="2.5" />
<path d="M1097 1470 L1050 1497" fill="none" stroke-width="2.5" />
<path d="M1050 1497 L1049 1552 L1049 1694 L1047 1700" fill="none" stroke-width="2.5" />
<path d="M1047 1700 L999 1727" fill="none" stroke-width="2.5" />
<path d="M1103 722 C1102.7 726.7 1101.5 740.7 1101 750 C1100.5 759.3 1099.5 771 1100 778 C1100.5 785 1103.3 789.7 1104 792" fill="none" stroke-width="2.5" />
<path d="M1088 803 L1132 777" fill="none" stroke-width="2.5" />
<path d="M1132 777 C1133 776.7 1136.3 774.5 1138 775 C1139.7 775.5 1141.3 775.8 1142 780 C1142.7 784.2 1143 793.3 1142 800 C1141 806.7 1138.7 814.8 1136 820 C1133.3 825.2 1129.3 829 1126 831 C1122.7 833 1117.7 831.8 1116 832" fill="none" stroke-width="2.5" />
<path d="M1132 778 C1132.5 779.7 1134.8 782.7 1135 788 C1135.2 793.3 1134.8 804 1133 810 C1131.2 816 1126.8 820.7 1124 824 C1121.2 827.3 1117.3 829 1116 830" fill="none" stroke-width="2.5" />
<path d="M1116 831 L1092 843" fill="none" stroke-width="2.5" />
<path d="M1014 1414 L1052 1392" fill="none" stroke-width="2.5" />
<path d="M1052 1382 L1052 1392 L1071 1401" fill="none" stroke-width="2.5" />
<ellipse cx="1023" cy="1464" rx="27.5" ry="16" transform="rotate(60 1023 1464)" fill="none" stroke-width="2.5" />
<ellipse cx="1057.6" cy="898" rx="11" ry="8.2" transform="rotate(-55 1057.6 898)" fill="none" stroke-width="2.5" />
<path d="M1061.2 889.9 L1059.1 894.6 L1062.1 894.6" fill="none" stroke-width="2.3" />
<path d="M1055.7 906.5 L1055.7 901" fill="none" stroke-width="2.3" />
<ellipse cx="1053" cy="938" rx="11" ry="8.2" transform="rotate(-55 1053 938)" fill="none" stroke-width="2.5" />
<path d="M1056.6 929.9 L1054.5 934.6 L1057.5 934.6" fill="none" stroke-width="2.3" />
<path d="M1051.1 946.5 L1051.1 941" fill="none" stroke-width="2.3" />
<ellipse cx="1026.6" cy="1645" rx="11" ry="8.2" transform="rotate(-55 1026.6 1645)" fill="none" stroke-width="2.5" />
<path d="M1030.2 1636.9 L1028.1 1641.6 L1031.1 1641.6" fill="none" stroke-width="2.3" />
<path d="M1024.7 1653.5 L1024.7 1648" fill="none" stroke-width="2.3" />
<ellipse cx="1024.4" cy="1678.6" rx="11" ry="8.2" transform="rotate(-55 1024.4 1678.6)" fill="none" stroke-width="2.5" />
<path d="M1028 1670.5 L1025.9 1675.2 L1028.9 1675.2" fill="none" stroke-width="2.3" />
<path d="M1022.5 1687.1 L1022.5 1681.6" fill="none" stroke-width="2.3" />
<path d="M210.7 512.5 C212.1 514.1 216.3 518.3 219 522 C221.7 525.7 225 529.5 226.7 534.5 C228.4 539.5 228.6 549.1 229 552" fill="none" stroke-width="2.5" />
<path d="M180.6 614.4 C182.8 613.8 189.9 612.3 193.8 610.6 C197.7 608.9 202.2 605.3 203.9 604.2" fill="none" stroke-width="2.5" />
<path d="M154.5 525.7 L184.9 505.4 L210.7 512.5 L176 532 L154.5 525.7" fill="#fff" stroke-width="2.5" />
<path d="M154.5 525.7 L176 532 L163.3 580.2 L138.5 573.8 L154.5 525.7 Z" fill="#fff" stroke-width="2.5" />
<path d="M138.5 573.8 L163.3 580.2 L180.6 614.4 L156.2 608 L138.5 573.8 Z" fill="#fff" stroke-width="2.5" />
<path d="M201.4 532.9 L242 542.2 L226 606.9 L186.1 597.1" fill="#fff" stroke-width="2.5" stroke="none"/>
<path d="M198.8 532 L241.9 542" fill="none" stroke-width="2.5" />
<path d="M188.7 597.9 L225.4 606.8" fill="none" stroke-width="2.5" />
<path d="M186.1 597.1 L183.7 596.1 L181.5 594.3 L179.6 591.9 L178.1 588.7 L176.9 585 L176.2 580.8 L175.9 576.1 L176 571.3 L176.6 566.2 L177.6 561.2 L179 556.2 L180.8 551.4 L182.8 547 L185.2 543 L187.7 539.6 L190.4 536.8 L193.2 534.7 L196 533.3 L198.8 532.7 L201.4 532.9" fill="none" stroke-width="2.5" />
<ellipse cx="206.4" cy="545.1" rx="7.6" ry="4.6" transform="rotate(6 206.4 545.1)" fill="none" stroke-width="2.3" />
<path d="M253.4 539.4 L325.6 558.1 L325.6 558.1 L329.4 559.7 L332.8 562.8 L335.5 567.2 L337.4 572.6 L338.6 579 L338.9 586 L338.4 593.4 L337 600.9 L334.9 608.2 L332 615 L328.6 621.1 L324.7 626.3 L320.4 630.2 L316.1 632.9 L311.7 634.2 L307.6 633.9 L235.4 615.3 L235.4 615.3 L231.6 613.6 L228.2 610.5 L225.5 606.2 L223.6 600.7 L222.4 594.4 L222.1 587.4 L222.6 580 L224 572.5 L226.1 565.2 L229 558.3 L232.4 552.2 L236.3 547.1 L240.6 543.1 L244.9 540.4 L249.3 539.2 L253.4 539.4 Z" fill="#fff" stroke-width="2.5" />
<path d="M307.6 633.9 L303.8 632.3 L300.4 629.2 L297.7 624.8 L295.8 619.4 L294.6 613 L294.3 606 L294.8 598.6 L296.2 591.1 L298.3 583.8 L301.2 577 L304.6 570.9 L308.5 565.7 L312.8 561.8 L317.1 559.1 L321.5 557.8 L325.6 558.1" fill="none" stroke-width="2.5" />
<path d="M307.5 622.7 L306.1 618.7 L305.2 614.2 L304.8 609.2 L304.9 604 L305.6 598.5 L306.7 593.1 L308.2 587.8 L310.2 582.8 L312.6 578.1 L315.3 574 L318.2 570.6 L321.2 567.9 L324.4 565.9 L327.5 564.9 L330.5 564.7 L333.4 565.4" fill="none" stroke-width="2.5" />
<path d="M318.2 623.4 L316.8 620.2 L315.7 616.5 L315.1 612.3 L315 607.7 L315.3 603 L316 598.2 L317.2 593.4 L318.8 588.9 L320.7 584.6 L322.9 580.7 L325.4 577.3 L328 574.6 L330.8 572.5 L333.6 571.2 L336.3 570.6 L339 570.8" fill="none" stroke-width="2.5" />
<path d="M326.4 623.9 L324.9 621.3 L323.7 618.1 L323 614.6 L322.6 610.6 L322.6 606.5 L323.1 602.2 L324 597.9 L325.2 593.6 L326.8 589.6 L328.6 585.9 L330.8 582.6 L333.1 579.9 L335.5 577.7 L338 576.1 L340.6 575.2 L343 575" fill="none" stroke-width="2.5" />
<ellipse cx="344.5" cy="603.3" rx="24.5" ry="14" transform="rotate(103.4 344.5 603.3)" fill="#fff" stroke-width="2.5" />
<path d="M767 1179.2 L799.9 1160.2 L799.9 1160.2 L801.6 1159.6 L803.7 1159.9 L806 1160.9 L808.2 1162.6 L810.4 1164.8 L812.2 1167.5 L813.6 1170.4 L814.5 1173.4 L814.8 1176.2 L814.6 1178.6 L813.7 1180.6 L812.4 1181.8 L779.5 1200.8" fill="#fff" stroke-width="2.5" />
<path d="M773.9 1175.2 L775.7 1174.6 L777.8 1174.9 L780 1175.9 L782.3 1177.6 L784.4 1179.8 L786.2 1182.5 L787.6 1185.4 L788.5 1188.4 L788.8 1191.2 L788.6 1193.6 L787.7 1195.6 L786.4 1196.8" fill="none" stroke-width="2.5" />
<path d="M779.9 1171.7 L781.7 1171.1 L783.8 1171.4 L786.1 1172.4 L788.3 1174.1 L790.4 1176.3 L792.3 1179 L793.7 1181.9 L794.6 1184.9 L794.9 1187.7 L794.6 1190.1 L793.8 1192.1 L792.4 1193.3" fill="none" stroke-width="2.5" />
<path d="M786 1168.2 L787.8 1167.6 L789.9 1167.9 L792.1 1168.9 L794.4 1170.6 L796.5 1172.8 L798.3 1175.5 L799.7 1178.4 L800.6 1181.4 L801 1184.2 L800.7 1186.6 L799.9 1188.6 L798.5 1189.8" fill="none" stroke-width="2.5" />
<path d="M792.1 1164.7 L793.9 1164.1 L795.9 1164.4 L798.2 1165.4 L800.4 1167.1 L802.6 1169.3 L804.4 1172 L805.8 1174.9 L806.7 1177.9 L807 1180.7 L806.8 1183.1 L805.9 1185.1 L804.6 1186.3" fill="none" stroke-width="2.5" />
<path d="M741.9 1175.8 L750.5 1170.8 L750.5 1170.8 L753.5 1169.7 L756.9 1169.5 L760.6 1170.4 L764.4 1172.2 L768.3 1174.9 L772 1178.3 L775.4 1182.4 L778.4 1187 L780.9 1191.9 L782.7 1196.9 L783.8 1201.8 L784.2 1206.5 L783.9 1210.7 L782.8 1214.3 L781 1217.2 L778.5 1219.2 L769.9 1224.2" fill="#fff" stroke-width="2.5" />
<ellipse cx="755.9" cy="1200" rx="28" ry="16" transform="rotate(60 755.9 1200)" fill="#fff" stroke-width="2.5" />
<path d="M686 1214.9 L743.2 1181.9 L743.2 1181.9 L745.5 1181.1 L748.1 1181 L751 1181.7 L754 1183.1 L757 1185.2 L759.9 1187.9 L762.6 1191.2 L765 1194.8 L766.9 1198.6 L768.4 1202.5 L769.3 1206.4 L769.6 1210.1 L769.3 1213.4 L768.5 1216.2 L767.1 1218.5 L765.2 1220.1 L708 1253.1" fill="#fff" stroke-width="2.5" />
<ellipse cx="697" cy="1234" rx="22" ry="12.5" transform="rotate(60 697 1234)" fill="#fff" stroke-width="2.5" />
<ellipse cx="696" cy="1234.5" rx="11" ry="7" transform="rotate(60 696 1234.5)" fill="none" stroke-width="2.5" />
<path d="M1281 678.2 L1313.9 659.2 L1313.9 659.2 L1315.6 658.6 L1317.7 658.9 L1320 659.9 L1322.2 661.6 L1324.4 663.8 L1326.2 666.5 L1327.6 669.4 L1328.5 672.4 L1328.8 675.2 L1328.6 677.6 L1327.7 679.6 L1326.4 680.8 L1293.5 699.8" fill="#fff" stroke-width="2.5" />
<path d="M1287.9 674.2 L1289.7 673.6 L1291.8 673.9 L1294 674.9 L1296.3 676.6 L1298.4 678.8 L1300.2 681.5 L1301.6 684.4 L1302.5 687.4 L1302.8 690.2 L1302.6 692.6 L1301.7 694.6 L1300.4 695.8" fill="none" stroke-width="2.5" />
<path d="M1293.9 670.7 L1295.7 670.1 L1297.8 670.4 L1300.1 671.4 L1302.3 673.1 L1304.4 675.3 L1306.3 678 L1307.7 680.9 L1308.6 683.9 L1308.9 686.7 L1308.6 689.1 L1307.8 691.1 L1306.4 692.3" fill="none" stroke-width="2.5" />
<path d="M1300 667.2 L1301.8 666.6 L1303.9 666.9 L1306.1 667.9 L1308.4 669.6 L1310.5 671.8 L1312.3 674.5 L1313.7 677.4 L1314.6 680.4 L1315 683.2 L1314.7 685.6 L1313.9 687.6 L1312.5 688.8" fill="none" stroke-width="2.5" />
<path d="M1306.1 663.7 L1307.9 663.1 L1309.9 663.4 L1312.2 664.4 L1314.4 666.1 L1316.6 668.3 L1318.4 671 L1319.8 673.9 L1320.7 676.9 L1321 679.7 L1320.8 682.1 L1319.9 684.1 L1318.6 685.3" fill="none" stroke-width="2.5" />
<path d="M1255.9 674.8 L1264.5 669.8 L1264.5 669.8 L1267.5 668.7 L1270.9 668.5 L1274.6 669.4 L1278.4 671.2 L1282.3 673.9 L1286 677.3 L1289.4 681.4 L1292.4 686 L1294.9 690.9 L1296.7 695.9 L1297.8 700.8 L1298.2 705.5 L1297.9 709.7 L1296.8 713.3 L1295 716.2 L1292.5 718.2 L1283.9 723.2" fill="#fff" stroke-width="2.5" />
<ellipse cx="1269.9" cy="699" rx="28" ry="16" transform="rotate(60 1269.9 699)" fill="#fff" stroke-width="2.5" />
<path d="M1200 713.9 L1257.2 680.9 L1257.2 680.9 L1259.5 680.1 L1262.1 680 L1265 680.7 L1268 682.1 L1271 684.2 L1273.9 686.9 L1276.6 690.2 L1279 693.8 L1280.9 697.6 L1282.4 701.5 L1283.3 705.4 L1283.6 709.1 L1283.3 712.4 L1282.5 715.2 L1281.1 717.5 L1279.2 719.1 L1222 752.1" fill="#fff" stroke-width="2.5" />
<ellipse cx="1211" cy="733" rx="22" ry="12.5" transform="rotate(60 1211 733)" fill="#fff" stroke-width="2.5" />
<ellipse cx="1210" cy="733.5" rx="11" ry="7" transform="rotate(60 1210 733.5)" fill="none" stroke-width="2.5" />
<path d="M1238.6 1327 L1263.7 1312.5 L1263.7 1312.5 L1265.3 1312 L1267.3 1312.2 L1269.4 1313.2 L1271.4 1314.7 L1273.4 1316.8 L1275.1 1319.2 L1276.4 1321.9 L1277.2 1324.7 L1277.5 1327.2 L1277.2 1329.5 L1276.5 1331.3 L1275.2 1332.5 L1250.1 1347" fill="#fff" stroke-width="2.5" />
<path d="M1243.8 1324 L1245.4 1323.5 L1247.4 1323.8 L1249.4 1324.7 L1251.5 1326.2 L1253.5 1328.3 L1255.2 1330.8 L1256.5 1333.4 L1257.3 1336.2 L1257.6 1338.7 L1257.3 1341 L1256.5 1342.8 L1255.3 1344" fill="none" stroke-width="2.5" />
<path d="M1249 1321 L1250.6 1320.5 L1252.6 1320.8 L1254.6 1321.7 L1256.7 1323.2 L1258.7 1325.3 L1260.4 1327.8 L1261.6 1330.4 L1262.5 1333.2 L1262.8 1335.7 L1262.5 1338 L1261.7 1339.8 L1260.5 1341" fill="none" stroke-width="2.5" />
<path d="M1254.2 1318 L1255.8 1317.5 L1257.8 1317.8 L1259.8 1318.7 L1261.9 1320.2 L1263.9 1322.3 L1265.5 1324.8 L1266.8 1327.4 L1267.7 1330.2 L1268 1332.7 L1267.7 1335 L1266.9 1336.8 L1265.7 1338" fill="none" stroke-width="2.5" />
<path d="M1259.4 1315 L1261 1314.5 L1263 1314.8 L1265 1315.7 L1267.1 1317.2 L1269.1 1319.3 L1270.7 1321.8 L1272 1324.4 L1272.9 1327.2 L1273.2 1329.7 L1272.9 1332 L1272.1 1333.8 L1270.9 1335" fill="none" stroke-width="2.5" />
<path d="M1142.8 1365.1 L1215.5 1323.1 L1215.5 1323.1 L1219 1321.6 L1222.8 1321.2 L1226.9 1321.6 L1231 1323.1 L1235.1 1325.4 L1238.9 1328.4 L1242.3 1332.2 L1245.2 1336.5 L1247.5 1341.2 L1249 1346 L1249.8 1350.9 L1249.7 1355.5 L1248.9 1359.8 L1247.3 1363.6 L1244.9 1366.7 L1242 1368.9 L1169.2 1410.9" fill="#fff" stroke-width="2.5" />
<ellipse cx="1156" cy="1388" rx="26.5" ry="15" transform="rotate(60 1156 1388)" fill="#fff" stroke-width="2.5" />
<ellipse cx="1156" cy="1388" rx="12.5" ry="8" transform="rotate(60 1156 1388)" fill="none" stroke-width="2.5" />
<path d="M738 110.5 L740.2 106.6 L747.6 106.6 L747.6 138.8 L743.2 138.8 L743.2 110.8 L738 110.8 Z" fill="#000" stroke="none" fill-rule="evenodd"/>
<path d="M738.3 725.5 L738.4 724.7 L738.6 724 L738.9 723.3 L739.2 722.6 L739.6 722 L740.1 721.4 L740.6 720.8 L741.2 720.3 L741.8 719.8 L742.4 719.4 L743.1 719.1 L743.8 718.8 L744.5 718.6 L745.3 718.5 L746 718.4 L746.8 718.4 L747.6 718.5 L748.3 718.6 L749 718.8 L749.7 719.1 L750.4 719.4 L751.1 719.9 L751.7 720.3 L752.2 720.8 L752.7 721.4 L753.2 722 L753.6 722.6 L753.9 723.3 L754.2 724 L754.4 724.8 L754.5 725.5 L754.6 726.3 L754.6 727 L754.5 727.8 L754.4 728.5 L754.2 729.2 L753.9 729.9 L753.5 730.6 L753.1 731.3 L752.7 731.9 L739.4 747 L757 747" fill="none" stroke-width="4.0" stroke-linecap="butt" stroke-linejoin="miter"/>
<path d="M738.3 1421.6 L738.4 1420.8 L738.7 1420 L739 1419.2 L739.5 1418.5 L740 1417.8 L740.6 1417.2 L741.2 1416.7 L742 1416.3 L742.7 1415.9 L743.5 1415.7 L744.3 1415.5 L745.2 1415.4 L746 1415.4 L746.8 1415.5 L747.6 1415.8 L748.4 1416.1 L749.2 1416.5 L749.8 1416.9 L750.5 1417.5 L751 1418.1 L751.5 1418.8 L751.9 1419.5 L752.2 1420.3 L752.4 1421.1 L752.6 1422 L752.6 1422.8 L752.5 1423.6 L752.4 1424.5 L752.1 1425.2 L751.7 1426 L751.3 1426.7 L750.8 1427.4 L750.2 1428 L749.5 1428.5 L748.8 1428.9 L748.1 1429.3 L747.3 1429.6 L746.4 1429.7 L745.6 1429.8 L744.8 1429.8 L744 1430.3 L745 1430.2 L745.9 1430.2 L746.8 1430.4 L747.7 1430.7 L748.6 1431 L749.4 1431.5 L750.1 1432 L750.8 1432.7 L751.4 1433.4 L751.9 1434.2 L752.3 1435 L752.7 1435.9 L752.9 1436.8 L753 1437.7 L753 1438.6 L752.9 1439.6 L752.7 1440.5 L752.4 1441.3 L751.9 1442.2 L751.4 1443 L750.8 1443.7 L750.2 1444.3 L749.4 1444.9 L748.6 1445.3 L747.8 1445.7 L746.9 1446 L745.9 1446.1 L745 1446.2 L744.1 1446.1 L743.2 1446 L742.3 1445.7 L741.4 1445.4 L740.6 1444.9 L739.9 1444.3 L739.2 1443.7 L738.6 1443 L738.1 1442.2 L737.7 1441.4 L737.3 1440.5 L737.1 1439.6" fill="none" stroke-width="4.0" stroke-linecap="butt" stroke-linejoin="miter"/>
<path d="M1150.6 1117 L1131.2 1145.8 L1146.6 1145.8 L1146.6 1150.8 L1150.6 1150.8 L1150.6 1145.8 L1154 1145.8 L1154 1142.2 L1150.6 1142.2 Z M1146.8 1129 L1137.8 1142.2 L1146.8 1142.2 Z" fill="#000" stroke="none" fill-rule="evenodd"/>
<path d="M1273 574.8 L1261.6 574.8 L1257.1 587.5" fill="none" stroke-width="4.0" stroke-linecap="butt" stroke-linejoin="miter"/>
<path d="M1256 588.6 L1256.8 587.7 L1257.8 587 L1258.8 586.4 L1259.8 585.9 L1261 585.5 L1262.1 585.3 L1263.3 585.3 L1264.5 585.4 L1265.6 585.7 L1266.7 586.1 L1267.7 586.6 L1268.7 587.3 L1269.6 588.1 L1270.3 589 L1271 590 L1271.5 591.1 L1271.8 592.2 L1272 593.3 L1272.1 594.5 L1272 595.7 L1271.8 596.8 L1271.4 597.9 L1270.9 599 L1270.2 600 L1269.4 600.8 L1268.6 601.6 L1267.6 602.3 L1266.5 602.8 L1265.4 603.2 L1264.3 603.4 L1263.1 603.5 L1261.9 603.4 L1260.8 603.2 L1259.7 602.9 L1258.6 602.4 L1257.6 601.7 L1256.7 601 L1255.9 600.1 L1255.2 599.1 L1254.7 598.1" fill="none" stroke-width="4.0" stroke-linecap="butt" stroke-linejoin="miter"/>
<path d="M1218.7 1456.4 L1206.6 1474.3" fill="none" stroke-width="4.0" stroke-linecap="butt" stroke-linejoin="miter"/>
<path d="M1222.8 1479 L1222.7 1480.1 L1222.5 1481.3 L1222.1 1482.4 L1221.6 1483.4 L1221 1484.4 L1220.2 1485.2 L1219.4 1486 L1218.4 1486.6 L1217.4 1487.1 L1216.3 1487.5 L1215.1 1487.7 L1214 1487.8 L1212.9 1487.7 L1211.7 1487.5 L1210.6 1487.1 L1209.6 1486.6 L1208.6 1486 L1207.8 1485.2 L1207 1484.4 L1206.4 1483.4 L1205.9 1482.4 L1205.5 1481.3 L1205.3 1480.1 L1205.2 1479 L1205.3 1477.9 L1205.5 1476.7 L1205.9 1475.6 L1206.4 1474.6 L1207 1473.6 L1207.8 1472.8 L1208.6 1472 L1209.6 1471.4 L1210.6 1470.9 L1211.7 1470.5 L1212.9 1470.3 L1214 1470.2 L1215.1 1470.3 L1216.3 1470.5 L1217.4 1470.9 L1218.4 1471.4 L1219.4 1472 L1220.2 1472.8 L1221 1473.6 L1221.6 1474.6 L1222.1 1475.6 L1222.5 1476.7 L1222.7 1477.9 L1222.8 1479 Z" fill="none" stroke-width="4.0" stroke-linecap="butt" stroke-linejoin="miter"/>
<path d="M349 991.8 L371.8 991.8 L352.8 1024.7 L349.3 1022.7 L365.5 995.8 L349 995.8 Z" fill="#000" stroke="none" fill-rule="evenodd"/>
<path d="M752.9 1085.8 L752.8 1086.7 L752.6 1087.6 L752.3 1088.4 L751.9 1089.2 L751.4 1089.9 L750.7 1090.6 L750 1091.2 L749.1 1091.7 L748.3 1092.1 L747.3 1092.4 L746.4 1092.5 L745.4 1092.6 L744.4 1092.5 L743.5 1092.4 L742.5 1092.1 L741.6 1091.7 L740.8 1091.2 L740.1 1090.6 L739.4 1089.9 L738.9 1089.2 L738.5 1088.4 L738.2 1087.6 L738 1086.7 L737.9 1085.8 L738 1084.9 L738.2 1084 L738.5 1083.2 L738.9 1082.4 L739.4 1081.7 L740.1 1081 L740.8 1080.4 L741.6 1079.9 L742.5 1079.5 L743.5 1079.2 L744.4 1079.1 L745.4 1079 L746.4 1079.1 L747.3 1079.2 L748.3 1079.5 L749.1 1079.9 L750 1080.4 L750.7 1081 L751.4 1081.7 L751.9 1082.4 L752.3 1083.2 L752.6 1084 L752.8 1084.9 L752.9 1085.8 Z" fill="none" stroke-width="4.0" stroke-linecap="butt" stroke-linejoin="miter"/>
<path d="M754 1100.7 L753.9 1101.8 L753.7 1102.8 L753.4 1103.8 L752.9 1104.8 L752.2 1105.6 L751.5 1106.4 L750.7 1107.1 L749.8 1107.7 L748.8 1108.2 L747.7 1108.5 L746.6 1108.7 L745.5 1108.8 L744.4 1108.7 L743.3 1108.5 L742.2 1108.2 L741.2 1107.7 L740.3 1107.1 L739.5 1106.4 L738.8 1105.6 L738.1 1104.8 L737.6 1103.8 L737.3 1102.8 L737.1 1101.8 L737 1100.7 L737.1 1099.6 L737.3 1098.6 L737.6 1097.6 L738.1 1096.7 L738.8 1095.8 L739.5 1095 L740.3 1094.3 L741.2 1093.7 L742.2 1093.2 L743.3 1092.9 L744.4 1092.7 L745.5 1092.6 L746.6 1092.7 L747.7 1092.9 L748.8 1093.2 L749.8 1093.7 L750.7 1094.3 L751.5 1095 L752.2 1095.8 L752.9 1096.7 L753.4 1097.6 L753.7 1098.6 L753.9 1099.6 L754 1100.7 Z" fill="none" stroke-width="4.0" stroke-linecap="butt" stroke-linejoin="miter"/>
<path d="M206.3 413.9 L194.1 431.7" fill="none" stroke-width="4.0" stroke-linecap="butt" stroke-linejoin="miter"/>
<path d="M207.8 409.1 L207.7 410.3 L207.5 411.4 L207.1 412.5 L206.6 413.6 L206 414.5 L205.2 415.4 L204.3 416.2 L203.3 416.8 L202.3 417.3 L201.2 417.7 L200.1 417.9 L198.9 418 L197.7 417.9 L196.6 417.7 L195.5 417.3 L194.4 416.8 L193.5 416.2 L192.6 415.4 L191.8 414.5 L191.2 413.6 L190.7 412.5 L190.3 411.4 L190.1 410.3 L190 409.1 L190.1 407.9 L190.3 406.8 L190.7 405.7 L191.2 404.6 L191.8 403.7 L192.6 402.8 L193.5 402 L194.4 401.4 L195.5 400.9 L196.6 400.5 L197.7 400.3 L198.9 400.2 L200.1 400.3 L201.2 400.5 L202.3 400.9 L203.3 401.4 L204.3 402 L205.2 402.8 L206 403.7 L206.6 404.6 L207.1 405.7 L207.5 406.8 L207.7 407.9 L207.8 409.1 Z" fill="none" stroke-width="4.0" stroke-linecap="butt" stroke-linejoin="miter"/>
<path d="M744.3 148 L744.3 197" fill="none" stroke-width="2.7" stroke-linecap="butt"/>
<path d="M745.9 657 L745.9 709" fill="none" stroke-width="2.7" stroke-linecap="butt"/>
<path d="M744.4 1456 L744.4 1506" fill="none" stroke-width="2.7" stroke-linecap="butt"/>
<path d="M1069 1133 L1120 1133" fill="none" stroke-width="2.7" stroke-linecap="butt"/>
<path d="M1262.6 613.6 L1262.6 663.6" fill="none" stroke-width="2.7" stroke-linecap="butt"/>
<path d="M1215.5 1396 L1215.5 1447.6" fill="none" stroke-width="2.7" stroke-linecap="butt"/>
<path d="M379 1012.4 L429 1012.4" fill="none" stroke-width="2.7" stroke-linecap="butt"/>
<path d="M744.6 1119 L744.6 1169" fill="none" stroke-width="2.7" stroke-linecap="butt"/>
<path d="M197 448 L197 500.3" fill="none" stroke-width="2.7" stroke-linecap="butt"/>
<path d="M339.4 602.4 L408.6 620.2" fill="none" stroke-width="2.7" stroke-linecap="butt"/>
<path d="M385 1416 L425 1394" fill="none" stroke-width="2.7" stroke-linecap="butt"/>
<path d="M572 1306 L649 1262" fill="none" stroke-width="2.7" stroke-linecap="butt"/>
<path d="M669 1252 L698 1236" fill="none" stroke-width="2.7" stroke-linecap="butt"/>
<path d="M1047 828 L1075 813" fill="none" stroke-width="2.7" stroke-linecap="butt"/>
<path d="M1145 772 L1212 734" fill="none" stroke-width="2.7" stroke-linecap="butt"/>
<path d="M1000 1481 L1029 1464" fill="none" stroke-width="2.7" stroke-linecap="butt"/>
<path d="M1100 1424 L1160 1390" fill="none" stroke-width="2.7" stroke-linecap="butt"/>
<g transform="rotate(-9 1155 1590)" fill="#a8a8a8" stroke="none" font-family="Liberation Sans, sans-serif" font-size="13.1"><text x="1103" y="1595.5">WWW.ILCATS.RU</text><text x="1103" y="1616">16:39 13.12.2021</text></g>
</svg>
</body></html>
